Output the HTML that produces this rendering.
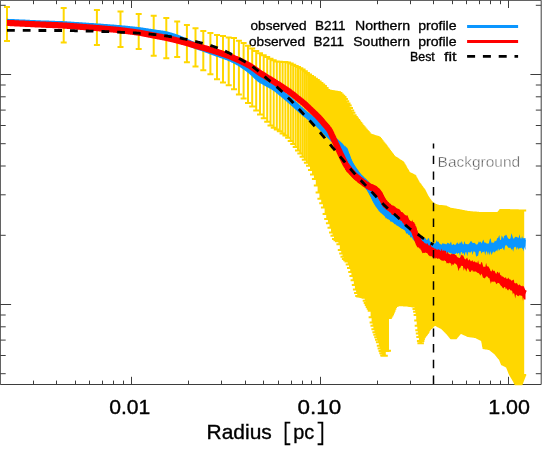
<!DOCTYPE html>
<html><head><meta charset="utf-8"><style>
html,body{margin:0;padding:0;background:#fff;}
svg{display:block}
text{font-family:"Liberation Sans",sans-serif;fill:#000;}
</style></head><body>
<svg width="542" height="462" viewBox="0 0 542 462">
<rect width="542" height="462" fill="#fff"/>
<defs><filter id="gs" x="0" y="0" width="100%" height="100%" filterUnits="userSpaceOnUse" color-interpolation-filters="sRGB"><feColorMatrix type="saturate" values="0"/></filter><clipPath id="c"><rect x="0" y="0" width="541.5" height="385.2"/></clipPath></defs>
<path d="M0.3 0.3H541.2V384.5H0.3Z" fill="none" stroke="#3d3d3d" stroke-width="1"/>
<path d="M33.5 384.5v-3.9M33.5 0.3v3.9M56.5 384.5v-3.9M56.5 0.3v3.9M75.5 384.5v-3.9M75.5 0.3v3.9M89.5 384.5v-3.9M89.5 0.3v3.9M102.5 384.5v-3.9M102.5 0.3v3.9M113.5 384.5v-3.9M113.5 0.3v3.9M123.5 384.5v-3.9M123.5 0.3v3.9M131.5 384.5v-7.7M131.5 0.3v7.7M188.5 384.5v-3.9M188.5 0.3v3.9M221.5 384.5v-3.9M221.5 0.3v3.9M245.5 384.5v-3.9M245.5 0.3v3.9M263.5 384.5v-3.9M263.5 0.3v3.9M278.5 384.5v-3.9M278.5 0.3v3.9M291.5 384.5v-3.9M291.5 0.3v3.9M302.5 384.5v-3.9M302.5 0.3v3.9M311.5 384.5v-3.9M311.5 0.3v3.9M320.5 384.5v-7.7M320.5 0.3v7.7M377.5 384.5v-3.9M377.5 0.3v3.9M410.5 384.5v-3.9M410.5 0.3v3.9M433.5 384.5v-3.9M433.5 0.3v3.9M452.5 384.5v-3.9M452.5 0.3v3.9M466.5 384.5v-3.9M466.5 0.3v3.9M479.5 384.5v-3.9M479.5 0.3v3.9M490.5 384.5v-3.9M490.5 0.3v3.9M500.5 384.5v-3.9M500.5 0.3v3.9M508.5 384.5v-7.7M508.5 0.3v7.7M0.3 373.7h5.4M541.2 373.7h-5.4M0.3 355.5h5.4M541.2 355.5h-5.4M0.3 340.1h5.4M541.2 340.1h-5.4M0.3 326.8h5.4M541.2 326.8h-5.4M0.3 315h5.4M541.2 315h-5.4M0.3 304.5h10.8M541.2 304.5h-10.8M0.3 235.3h5.4M541.2 235.3h-5.4M0.3 194.8h5.4M541.2 194.8h-5.4M0.3 166h5.4M541.2 166h-5.4M0.3 143.7h5.4M541.2 143.7h-5.4M0.3 125.5h5.4M541.2 125.5h-5.4M0.3 110.1h5.4M541.2 110.1h-5.4M0.3 96.8h5.4M541.2 96.8h-5.4M0.3 85h5.4M541.2 85h-5.4M0.3 74.5h10.8M541.2 74.5h-10.8M0.3 5.3h5.4M541.2 5.3h-5.4" stroke="#3d3d3d" stroke-width="1" fill="none"/>
<g clip-path="url(#c)">
<path d="M7 7V41M4 7h6M4 41h6M63.7 8V42.6M60.7 8h6M60.7 42.6h6M96.9 10.1V45.1M93.9 10.1h6M93.9 45.1h6M120.5 11.6V47.1M117.5 11.6h6M117.5 47.1h6M138.7 14V49.1M135.7 14h6M135.7 49.1h6M153.7 15.8V55.8M150.7 15.8h6M150.7 55.8h6M166.3 18V58.3M163.3 18h6M163.3 58.3h6M177.2 21.5V56.9M174.2 21.5h6M174.2 56.9h6M186.9 25.1V62.2M183.9 25.1h6M183.9 62.2h6M195.5 28.2V66.6M192.5 28.2h6M192.5 66.6h6M203.3 31.1V70.2M200.3 31.1h6M200.3 70.2h6M210.4 33.1V74.3M207.4 33.1h6M207.4 74.3h6M217 34.9V79.2M214 34.9h6M214 79.2h6M223 36V82.6M220 36h6M220 82.6h6M228.7 37.5V85.3M225.7 37.5h6M225.7 85.3h6M234 38.1V89.3M231 38.1h6M231 89.3h6M238.9 40.8V94.5M235.9 40.8h6M235.9 94.5h6M243.6 43V98.4M240.6 43h6M240.6 98.4h6M248 45.8V103.1M245 45.8h6M245 103.1h6M252.2 48.5V106.4M249.2 48.5h6M249.2 106.4h6M256.2 51.1V110.4M253.2 51.1h6M253.2 110.4h6M260 53.2V114.5M257 53.2h6M257 114.5h6M263.7 55.2V118.2M260.7 55.2h6M260.7 118.2h6M267.2 57.1V121.8M264.2 57.1h6M264.2 121.8h6M270.5 58.8V125.4M267.5 58.8h6M267.5 125.4h6M273.7 60.3V127.8M270.7 60.3h6M270.7 127.8h6M276.8 61.6V129.4M273.8 61.6h6M273.8 129.4h6M279.8 61.8V131.2M276.8 61.8h6M276.8 131.2h6M282.6 62V133.5M279.6 62h6M279.6 133.5h6M285.4 62.1V135.6M282.4 62.1h6M282.4 135.6h6M288.1 62.6V137.8M285.1 62.6h6M285.1 137.8h6M290.7 63.4V140.9M287.7 63.4h6M287.7 140.9h6M293.2 64.7V144M290.2 64.7h6M290.2 144h6M295.7 65.9V147.1M292.7 65.9h6M292.7 147.1h6M298 67.1V150.4M295 67.1h6M295 150.4h6M300.3 68.3V153.6M297.3 68.3h6M297.3 153.6h6M302.6 69.6V156.7M299.6 69.6h6M299.6 156.7h6M304.8 71.3V159.8M301.8 71.3h6M301.8 159.8h6M306.9 72.9V162.8M303.9 72.9h6M303.9 162.8h6M309 74.5V165.7M306 74.5h6M306 165.7h6M311 75.9V170.1M308 75.9h6M308 170.1h6M313 77.3V174.6M310 77.3h6M310 174.6h6M314.9 78.7V179M311.9 78.7h6M311.9 179h6M316.8 80.1V185.6M313.8 80.1h6M313.8 185.6h6M318.6 81.6V192.4M315.6 81.6h6M315.6 192.4h6M320.4 83V198.8M317.4 83h6M317.4 198.8h6M322.2 84.4V203.2M319.2 84.4h6M319.2 203.2h6M323.9 86V207.5M320.9 86h6M320.9 207.5h6M325.6 87.9V213.9M322.6 87.9h6M322.6 213.9h6M327.2 89.9V219.1M324.2 89.9h6M324.2 219.1h6M328.9 90.7V223.2M325.9 90.7h6M325.9 223.2h6M330.5 90.9V227.8M327.5 90.9h6M327.5 227.8h6M332 91.2V232.4M329 91.2h6M329 232.4h6M333.5 91.5V235.8M330.5 91.5h6M330.5 235.8h6M335 91.7V238.9M332 91.7h6M332 238.9h6M336.5 92V240.2M333.5 92h6M333.5 240.2h6M338 92.3V241.3M335 92.3h6M335 241.3h6M339.4 93V244.3M336.4 93h6M336.4 244.3h6M340.8 94.4V249.9M337.8 94.4h6M337.8 249.9h6M342.2 95.8V253.5M339.2 95.8h6M339.2 253.5h6M343.5 97.1V256.8M340.5 97.1h6M340.5 256.8h6M344.9 99V258.9M341.9 99h6M341.9 258.9h6M346.2 101.2V260.2M343.2 101.2h6M343.2 260.2h6M347.5 103.4V261.5M344.5 103.4h6M344.5 261.5h6M348.7 105.5V264.5M345.7 105.5h6M345.7 264.5h6M350 107.9V268.1M347 107.9h6M347 268.1h6M351.2 110.4V271.9M348.2 110.4h6M348.2 271.9h6M352.4 112.8V276.1M349.4 112.8h6M349.4 276.1h6M353.6 115.2V280.3M350.6 115.2h6M350.6 280.3h6M354.8 117V285M351.8 117h6M351.8 285h6M355.9 118.6V289.5M352.9 118.6h6M352.9 289.5h6M357.1 120.1V293M354.1 120.1h6M354.1 293h6M358.2 121.5V296.1M355.2 121.5h6M355.2 296.1h6M359.3 123V296.4M356.3 123h6M356.3 296.4h6M360.4 124.4V296.6M357.4 124.4h6M357.4 296.6h6M361.5 125.9V296.8M358.5 125.9h6M358.5 296.8h6M362.6 127.2V297.1M359.6 127.2h6M359.6 297.1h6M363.6 128.5V297.3M360.6 128.5h6M360.6 297.3h6M364.7 129.7V297.7M361.7 129.7h6M361.7 297.7h6M365.7 130.9V300.8M362.7 130.9h6M362.7 300.8h6M366.7 132.1V302.9M363.7 132.1h6M363.7 302.9h6M367.7 133.3V304.9M364.7 133.3h6M364.7 304.9h6M368.7 134.5V306.9M365.7 134.5h6M365.7 306.9h6M369.7 134.9V308.8M366.7 134.9h6M366.7 308.8h6M370.7 135.2V310.8M367.7 135.2h6M367.7 310.8h6M371.6 135.6V317.3M368.6 135.6h6M368.6 317.3h6M372.6 135.9V322.5M369.6 135.9h6M369.6 322.5h6M373.5 136.2V325.8M370.5 136.2h6M370.5 325.8h6M374.4 136.5V329.2M371.4 136.5h6M371.4 329.2h6M375.4 136.8V332.2M372.4 136.8h6M372.4 332.2h6M376.3 137.1V334.7M373.3 137.1h6M373.3 334.7h6M377.2 137.4V337.2M374.2 137.4h6M374.2 337.2h6M378 138V339.7M375 138h6M375 339.7h6M378.9 139.1V342.3M375.9 139.1h6M375.9 342.3h6M379.8 140.2V345.7M376.8 140.2h6M376.8 345.7h6M380.6 141.3V348.6M377.6 141.3h6M377.6 348.6h6M381.5 142.4V350.9M378.5 142.4h6M378.5 350.9h6M382.3 143.4V353.2M379.3 143.4h6M379.3 353.2h6M383.2 144.5V355.4M380.2 144.5h6M380.2 355.4h6M384 145.5V355.8M381 145.5h6M381 355.8h6M384.8 146.6V355.8M381.8 146.6h6M381.8 355.8h6M385.6 147.7V351M382.6 147.7h6M382.6 351h6M386.4 148.8V350.9M383.4 148.8h6M383.4 350.9h6M387.2 149.8V350.8M384.2 149.8h6M384.2 350.8h6M388 150.9V350.8M385 150.9h6M385 350.8h6M388.8 151.9V318M385.8 151.9h6M385.8 318h6M389.5 152.9V316.7M386.5 152.9h6M386.5 316.7h6M390.3 154V315.5M387.3 154h6M387.3 315.5h6M391 155V314.2M388 155h6M388 314.2h6M391.8 156V312.6M388.8 156h6M388.8 312.6h6M392.5 156.9V310.7M389.5 156.9h6M389.5 310.7h6M393.3 157.4V308.8M390.3 157.4h6M390.3 308.8h6M394 157.9V306.9M391 157.9h6M391 306.9h6M394.7 158.3V306.1M391.7 158.3h6M391.7 306.1h6M395.4 158.8V305.8M392.4 158.8h6M392.4 305.8h6M396.1 159.3V305.4M393.1 159.3h6M393.1 305.4h6M396.8 159.7V305.1M393.8 159.7h6M393.8 305.1h6M397.5 160.2V304.9M394.5 160.2h6M394.5 304.9h6M398.2 160.7V305M395.2 160.7h6M395.2 305h6M398.9 161.1V305M395.9 161.1h6M395.9 305h6M399.6 161.6V305M396.6 161.6h6M396.6 305h6M400.3 162V305.1M397.3 162h6M397.3 305.1h6M400.9 162.5V305.1M397.9 162.5h6M397.9 305.1h6M401.6 163.2V305.1M398.6 163.2h6M398.6 305.1h6M402.3 164.4V305.2M399.3 164.4h6M399.3 305.2h6M402.9 165.5V305.2M399.9 165.5h6M399.9 305.2h6M403.6 166.6V305.2M400.6 166.6h6M400.6 305.2h6M404.2 167.8V305.3M401.2 167.8h6M401.2 305.3h6M404.8 168.9V305.3M401.8 168.9h6M401.8 305.3h6M405.5 170V305.3M402.5 170h6M402.5 305.3h6M406.1 171.1V305.4M403.1 171.1h6M403.1 305.4h6M406.7 172.2V305.4M403.7 172.2h6M403.7 305.4h6M407.3 173.1V305.4M404.3 173.1h6M404.3 305.4h6M407.9 173.4V305.4M404.9 173.4h6M404.9 305.4h6M408.6 173.7V305.5M405.6 173.7h6M405.6 305.5h6M409.2 174V305.5M406.2 174h6M406.2 305.5h6M409.8 174.3V305.6M406.8 174.3h6M406.8 305.6h6M410.4 174.6V305.7M407.4 174.6h6M407.4 305.7h6M410.9 174.9V305.8M407.9 174.9h6M407.9 305.8h6M411.5 175.2V305.9M408.5 175.2h6M408.5 305.9h6M412.1 175.5V306M409.1 175.5h6M409.1 306h6M412.7 175.8V306.1M409.7 175.8h6M409.7 306.1h6M413.3 176.3V306.1M410.3 176.3h6M410.3 306.1h6M413.8 177.4V306.2M410.8 177.4h6M410.8 306.2h6M414.4 178.4V306.3M411.4 178.4h6M411.4 306.3h6M415 179.5V306.4M412 179.5h6M412 306.4h6M415.5 180.5V309M412.5 180.5h6M412.5 309h6M416.1 181.5V311.7M413.1 181.5h6M413.1 311.7h6M416.6 182.6V315.1M413.6 182.6h6M413.6 315.1h6M417.2 183.4V320.5M414.2 183.4h6M414.2 320.5h6M417.7 184.1V325.8M414.7 184.1h6M414.7 325.8h6M418.3 184.8V330.2M415.3 184.8h6M415.3 330.2h6M418.8 185.6V333.6M415.8 185.6h6M415.8 333.6h6M419.3 186.3V337M416.3 186.3h6M416.3 337h6M419.9 187V341.1M416.9 187h6M416.9 341.1h6M420.4 187.7V343.3M417.4 187.7h6M417.4 343.3h6M420.9 188.4V343.2M417.9 188.4h6M417.9 343.2h6M421.4 189.1V341.1M418.4 189.1h6M418.4 341.1h6M421.9 189.8V338.9M418.9 189.8h6M418.9 338.9h6M422.5 190.5V337.2M419.5 190.5h6M419.5 337.2h6M423 191.4V336.5M420 191.4h6M420 336.5h6M423.5 192.4V335.8M420.5 192.4h6M420.5 335.8h6M424 193.4V335.1M421 193.4h6M421 335.1h6M424.5 194.4V334.5M421.5 194.4h6M421.5 334.5h6M425 195.4V333.8M422 195.4h6M422 333.8h6M425.5 196.4V333.1M422.5 196.4h6M422.5 333.1h6M426 197.3V332.5M423 197.3h6M423 332.5h6M426.5 198V331.8M423.5 198h6M423.5 331.8h6M426.9 198.7V330.3M423.9 198.7h6M423.9 330.3h6M427.4 199.4V329.7M424.4 199.4h6M424.4 329.7h6M427.9 200.1V329.1M424.9 200.1h6M424.9 329.1h6M428.4 200.8V328.6M425.4 200.8h6M425.4 328.6h6M428.9 201.5V328.1M425.9 201.5h6M425.9 328.1h6M429.3 202V327.7M426.3 202h6M426.3 327.7h6M429.8 202.4V327.2M426.8 202.4h6M426.8 327.2h6M430.3 202.9V326.7M427.3 202.9h6M427.3 326.7h6M430.7 203.4V326.3M427.7 203.4h6M427.7 326.3h6M431.2 203.9V325.8M428.2 203.9h6M428.2 325.8h6M431.6 204.3V325.4M428.6 204.3h6M428.6 325.4h6M432.1 204.5V325M429.1 204.5h6M429.1 325h6M432.6 204.6V325M429.6 204.6h6M429.6 325h6M433 204.8V325M430 204.8h6M430 325h6M433.5 204.9V325M430.5 204.9h6M430.5 325h6M433.9 205.1V325M430.9 205.1h6M430.9 325h6M434.3 205.2V325M431.3 205.2h6M431.3 325h6M434.8 205.4V325M431.8 205.4h6M431.8 325h6M435.2 205.5V325M432.2 205.5h6M432.2 325h6M435.7 205.7V325M432.7 205.7h6M432.7 325h6M436.1 205.8V325M433.1 205.8h6M433.1 325h6M436.5 205.9V325M433.5 205.9h6M433.5 325h6M437 205.9V325M434 205.9h6M434 325h6M437.4 205.9V325M434.4 205.9h6M434.4 325h6M437.8 206V325M434.8 206h6M434.8 325h6M438.2 206V325.1M435.2 206h6M435.2 325.1h6M438.7 206.1V325.3M435.7 206.1h6M435.7 325.3h6M439.1 206.1V325.5M436.1 206.1h6M436.1 325.5h6M439.5 206.1V325.7M436.5 206.1h6M436.5 325.7h6M439.9 206.2V326M436.9 206.2h6M436.9 326h6M440.3 206.2V326.2M437.3 206.2h6M437.3 326.2h6M440.7 206.2V326.4M437.7 206.2h6M437.7 326.4h6M441.1 206.3V326.6M438.1 206.3h6M438.1 326.6h6M441.5 206.3V326.8M438.5 206.3h6M438.5 326.8h6M441.9 206.4V327M438.9 206.4h6M438.9 327h6M442.4 206.4V327.2M439.4 206.4h6M439.4 327.2h6M442.8 206.4V327.4M439.8 206.4h6M439.8 327.4h6M443.2 206.5V327.6M440.2 206.5h6M440.2 327.6h6M443.5 206.6V327.8M440.5 206.6h6M440.5 327.8h6M443.9 206.8V328M440.9 206.8h6M440.9 328h6M444.3 207V328.3M441.3 207h6M441.3 328.3h6M444.7 207.2V328.7M441.7 207.2h6M441.7 328.7h6M445.1 207.4V329.1M442.1 207.4h6M442.1 329.1h6M445.5 207.6V329.5M442.5 207.6h6M442.5 329.5h6M445.9 207.7V329.9M442.9 207.7h6M442.9 329.9h6M446.3 207.9V330.3M443.3 207.9h6M443.3 330.3h6M446.7 208.1V330.7M443.7 208.1h6M443.7 330.7h6M447 208.3V331M444 208.3h6M444 331h6M447.4 208.5V331.4M444.4 208.5h6M444.4 331.4h6M447.8 208.7V331.8M444.8 208.7h6M444.8 331.8h6M448.2 208.8V332.2M445.2 208.8h6M445.2 332.2h6M448.5 208.8V332.5M445.5 208.8h6M445.5 332.5h6M448.9 208.9V332.9M445.9 208.9h6M445.9 332.9h6M449.3 208.9V333.3M446.3 208.9h6M446.3 333.3h6M449.6 209V333.8M446.6 209h6M446.6 333.8h6M450 209.1V334.2M447 209.1h6M447 334.2h6M450.4 209.1V334.6M447.4 209.1h6M447.4 334.6h6M450.7 209.2V335.1M447.7 209.2h6M447.7 335.1h6M451.1 209.3V335.5M448.1 209.3h6M448.1 335.5h6M451.5 209.3V335.9M448.5 209.3h6M448.5 335.9h6M451.8 209.4V336.4M448.8 209.4h6M448.8 336.4h6M452.2 209.4V336.8M449.2 209.4h6M449.2 336.8h6M452.5 209.5V337.2M449.5 209.5h6M449.5 337.2h6M452.9 209.6V337.7M449.9 209.6h6M449.9 337.7h6M453.2 209.6V338.1M450.2 209.6h6M450.2 338.1h6M453.6 209.7V338.3M450.6 209.7h6M450.6 338.3h6M453.9 209.7V337.9M450.9 209.7h6M450.9 337.9h6M454.3 209.8V337.5M451.3 209.8h6M451.3 337.5h6M454.6 209.9V337M451.6 209.9h6M451.6 337h6M455 209.9V336.6M452 209.9h6M452 336.6h6M455.3 210V336.2M452.3 210h6M452.3 336.2h6M455.7 210V335.8M452.7 210h6M452.7 335.8h6M456 210.1V335.4M453 210.1h6M453 335.4h6M456.3 210.1V335M453.3 210.1h6M453.3 335h6M456.7 210.2V334.6M453.7 210.2h6M453.7 334.6h6M457 210.3V334.2M454 210.3h6M454 334.2h6M457.3 210.3V333.8M454.3 210.3h6M454.3 333.8h6M457.7 210.4V333.4M454.7 210.4h6M454.7 333.4h6M458 210.5V333M455 210.5h6M455 333h6M458.3 210.5V333M455.3 210.5h6M455.3 333h6M458.7 210.6V333M455.7 210.6h6M455.7 333h6M459 210.7V333M456 210.7h6M456 333h6M459.3 210.7V333M456.3 210.7h6M456.3 333h6M459.7 210.8V333M456.7 210.8h6M456.7 333h6M460 210.9V333M457 210.9h6M457 333h6M460.3 210.9V333M457.3 210.9h6M457.3 333h6M460.6 211V333M457.6 211h6M457.6 333h6M460.9 211V333M457.9 211h6M457.9 333h6M461.3 211.1V333M458.3 211.1h6M458.3 333h6M461.6 211.2V333M458.6 211.2h6M458.6 333h6M461.9 211.2V333M458.9 211.2h6M458.9 333h6M462.2 211.3V333M459.2 211.3h6M459.2 333h6M462.5 211.4V333M459.5 211.4h6M459.5 333h6M462.8 211.4V333M459.8 211.4h6M459.8 333h6M463.1 211.5V333M460.1 211.5h6M460.1 333h6M463.5 211.6V333M460.5 211.6h6M460.5 333h6M463.8 211.6V333M460.8 211.6h6M460.8 333h6M464.1 211.7V333M461.1 211.7h6M461.1 333h6M464.4 211.7V333.2M461.4 211.7h6M461.4 333.2h6M464.7 211.8V333.3M461.7 211.8h6M461.7 333.3h6M465 211.9V333.5M462 211.9h6M462 333.5h6M465.3 211.9V333.6M462.3 211.9h6M462.3 333.6h6M465.6 212V333.7M462.6 212h6M462.6 333.7h6M465.9 212V333.9M462.9 212h6M462.9 333.9h6M466.2 212V334M463.2 212h6M463.2 334h6M466.5 212.1V334.2M463.5 212.1h6M463.5 334.2h6M466.8 212.1V334.3M463.8 212.1h6M463.8 334.3h6M467.1 212.1V334.4M464.1 212.1h6M464.1 334.4h6M467.4 212.1V334.6M464.4 212.1h6M464.4 334.6h6M467.7 212.2V334.7M464.7 212.2h6M464.7 334.7h6M468 212.2V334.8M465 212.2h6M465 334.8h6M468.3 212.2V335M465.3 212.2h6M465.3 335h6M468.6 212.2V335.1M465.6 212.2h6M465.6 335.1h6M468.9 212.3V335.2M465.9 212.3h6M465.9 335.2h6M469.1 212.3V335.4M466.1 212.3h6M466.1 335.4h6M469.4 212.3V335.5M466.4 212.3h6M466.4 335.5h6M469.7 212.3V335.6M466.7 212.3h6M466.7 335.6h6M470 212.4V335.8M467 212.4h6M467 335.8h6M470.3 212.4V335.9M467.3 212.4h6M467.3 335.9h6M470.6 212.4V336M467.6 212.4h6M467.6 336h6M470.9 212.4V336M467.9 212.4h6M467.9 336h6M471.1 212.4V336.1M468.1 212.4h6M468.1 336.1h6M471.4 212.5V336.1M468.4 212.5h6M468.4 336.1h6M471.7 212.5V336.2M468.7 212.5h6M468.7 336.2h6M472 212.5V336.2M469 212.5h6M469 336.2h6M472.3 212.5V336.2M469.3 212.5h6M469.3 336.2h6M472.5 212.6V336.3M469.5 212.6h6M469.5 336.3h6M472.8 212.6V336.3M469.8 212.6h6M469.8 336.3h6M473.1 212.6V336.3M470.1 212.6h6M470.1 336.3h6M473.4 212.6V336.4M470.4 212.6h6M470.4 336.4h6M473.7 212.6V336.4M470.7 212.6h6M470.7 336.4h6M473.9 212.7V336.5M470.9 212.7h6M470.9 336.5h6M474.2 212.7V336.5M471.2 212.7h6M471.2 336.5h6M474.5 212.7V336.5M471.5 212.7h6M471.5 336.5h6M474.7 212.7V336.6M471.7 212.7h6M471.7 336.6h6M475 212.8V336.6M472 212.8h6M472 336.6h6M475.3 212.8V336.6M472.3 212.8h6M472.3 336.6h6M475.5 212.8V336.7M472.5 212.8h6M472.5 336.7h6M475.8 212.8V336.7M472.8 212.8h6M472.8 336.7h6M476.1 212.8V336.7M473.1 212.8h6M473.1 336.7h6M476.3 212.9V336.8M473.3 212.9h6M473.3 336.8h6M476.6 212.9V336.8M473.6 212.9h6M473.6 336.8h6M476.9 212.9V336.8M473.9 212.9h6M473.9 336.8h6M477.1 212.9V336.9M474.1 212.9h6M474.1 336.9h6M477.4 213V336.9M474.4 213h6M474.4 336.9h6M477.7 213V337M474.7 213h6M474.7 337h6M477.9 213V337M474.9 213h6M474.9 337h6M478.2 213V337.1M475.2 213h6M475.2 337.1h6M478.4 213V337.2M475.4 213h6M475.4 337.2h6M478.7 213V337.3M475.7 213h6M475.7 337.3h6M479 213V337.5M476 213h6M476 337.5h6M479.2 213V337.6M476.2 213h6M476.2 337.6h6M479.5 213V337.7M476.5 213h6M476.5 337.7h6M479.7 213V337.9M476.7 213h6M476.7 337.9h6M480 213V338M477 213h6M477 338h6M480.2 213V338.1M477.2 213h6M477.2 338.1h6M480.5 213V338.2M477.5 213h6M477.5 338.2h6M480.7 213V338.4M477.7 213h6M477.7 338.4h6M481 213V338.5M478 213h6M478 338.5h6M481.2 213V338.6M478.2 213h6M478.2 338.6h6M481.5 213V338.7M478.5 213h6M478.5 338.7h6M481.7 213V338.9M478.7 213h6M478.7 338.9h6M482 213V339M479 213h6M479 339h6M482.2 213V339.1M479.2 213h6M479.2 339.1h6M482.5 213V339.2M479.5 213h6M479.5 339.2h6M482.7 213V339.4M479.7 213h6M479.7 339.4h6M483 213V339.5M480 213h6M480 339.5h6M483.2 213V339.6M480.2 213h6M480.2 339.6h6M483.4 213V339.7M480.4 213h6M480.4 339.7h6M483.7 213V339.8M480.7 213h6M480.7 339.8h6M483.9 213V340M480.9 213h6M480.9 340h6M484.2 213V340.9M481.2 213h6M481.2 340.9h6M484.4 213V342.2M481.4 213h6M481.4 342.2h6M484.7 213V343.5M481.7 213h6M481.7 343.5h6M484.9 213V344.7M481.9 213h6M481.9 344.7h6M485.1 213V346M482.1 213h6M482.1 346h6M485.4 213V347.3M482.4 213h6M482.4 347.3h6M485.6 213V348M482.6 213h6M482.6 348h6M485.8 213V348.1M482.8 213h6M482.8 348.1h6M486.1 213V348.1M483.1 213h6M483.1 348.1h6M486.3 213V348.1M483.3 213h6M483.3 348.1h6M486.5 213V348.2M483.5 213h6M483.5 348.2h6M486.8 213V348.2M483.8 213h6M483.8 348.2h6M487 213V348.2M484 213h6M484 348.2h6M487.2 213V348.3M484.2 213h6M484.2 348.3h6M487.5 213V348.3M484.5 213h6M484.5 348.3h6M487.7 213V348.3M484.7 213h6M484.7 348.3h6M487.9 213V348.4M484.9 213h6M484.9 348.4h6M488.2 213V348.4M485.2 213h6M485.2 348.4h6M488.4 213V348.4M485.4 213h6M485.4 348.4h6M488.6 213V348.5M485.6 213h6M485.6 348.5h6M488.8 213V348.5M485.8 213h6M485.8 348.5h6M489.1 213V348.6M486.1 213h6M486.1 348.6h6M489.3 213V348.6M486.3 213h6M486.3 348.6h6M489.5 213V348.6M486.5 213h6M486.5 348.6h6M489.8 213V348.7M486.8 213h6M486.8 348.7h6M490 213V348.7M487 213h6M487 348.7h6M490.2 213V348.7M487.2 213h6M487.2 348.7h6M490.4 213V348.8M487.4 213h6M487.4 348.8h6M490.6 213V348.8M487.6 213h6M487.6 348.8h6M490.9 213V348.8M487.9 213h6M487.9 348.8h6M491.1 213V348.9M488.1 213h6M488.1 348.9h6M491.3 213V348.9M488.3 213h6M488.3 348.9h6M491.5 213V348.9M488.5 213h6M488.5 348.9h6M491.8 213V349M488.8 213h6M488.8 349h6M492 213V349M489 213h6M489 349h6M492.2 213V349.2M489.2 213h6M489.2 349.2h6M492.4 213V349.3M489.4 213h6M489.4 349.3h6M492.6 213V349.5M489.6 213h6M489.6 349.5h6M492.8 213V349.7M489.8 213h6M489.8 349.7h6M493.1 213V349.8M490.1 213h6M490.1 349.8h6M493.3 213V350M490.3 213h6M490.3 350h6M493.5 213V350.2M490.5 213h6M490.5 350.2h6M493.7 213V350.4M490.7 213h6M490.7 350.4h6M493.9 213V350.5M490.9 213h6M490.9 350.5h6M494.1 213V350.7M491.1 213h6M491.1 350.7h6M494.3 213V350.9M491.3 213h6M491.3 350.9h6M494.6 213V351M491.6 213h6M491.6 351h6M494.8 213V351.2M491.8 213h6M491.8 351.2h6M495 213V351.4M492 213h6M492 351.4h6M495.2 213V351.6M492.2 213h6M492.2 351.6h6M495.4 213V351.7M492.4 213h6M492.4 351.7h6M495.6 213V351.9M492.6 213h6M492.6 351.9h6M495.8 213V352.1M492.8 213h6M492.8 352.1h6M496 213V352.2M493 213h6M493 352.2h6M496.2 213V352.4M493.2 213h6M493.2 352.4h6M496.4 213V352.6M493.4 213h6M493.4 352.6h6M496.7 213V352.7M493.7 213h6M493.7 352.7h6M496.9 213V352.9M493.9 213h6M493.9 352.9h6M497.1 213V353.1M494.1 213h6M494.1 353.1h6M497.3 213V353.3M494.3 213h6M494.3 353.3h6M497.5 213V353.6M494.5 213h6M494.5 353.6h6M497.7 213V353.8M494.7 213h6M494.7 353.8h6M497.9 213V354.1M494.9 213h6M494.9 354.1h6M498.1 213V354.3M495.1 213h6M495.1 354.3h6M498.3 213V354.5M495.3 213h6M495.3 354.5h6M498.5 213V354.8M495.5 213h6M495.5 354.8h6M498.7 213V355M495.7 213h6M495.7 355h6M498.9 213V355.3M495.9 213h6M495.9 355.3h6M499.1 213V355.5M496.1 213h6M496.1 355.5h6M499.3 213V355.8M496.3 213h6M496.3 355.8h6M499.5 213V356M496.5 213h6M496.5 356h6M499.7 213V356.2M496.7 213h6M496.7 356.2h6M499.9 213V356.5M496.9 213h6M496.9 356.5h6M500.1 213V356.7M497.1 213h6M497.1 356.7h6M500.3 212.9V356.9M497.3 212.9h6M497.3 356.9h6M500.5 212.6V357.2M497.5 212.6h6M497.5 357.2h6M500.7 212.4V357.4M497.7 212.4h6M497.7 357.4h6M500.9 212.2V357.7M497.9 212.2h6M497.9 357.7h6M501.1 211.9V357.9M498.1 211.9h6M498.1 357.9h6M501.3 211.7V358.1M498.3 211.7h6M498.3 358.1h6M501.5 211.4V358.4M498.5 211.4h6M498.5 358.4h6M501.7 211.2V358.6M498.7 211.2h6M498.7 358.6h6M501.9 211V358.8M498.9 211h6M498.9 358.8h6M502.1 210.7V359.1M499.1 210.7h6M499.1 359.1h6M502.2 210.5V359.6M499.2 210.5h6M499.2 359.6h6M502.4 210.3V360.1M499.4 210.3h6M499.4 360.1h6M502.6 210.1V360.6M499.6 210.1h6M499.6 360.6h6M502.8 210V361.1M499.8 210h6M499.8 361.1h6M503 210V361.5M500 210h6M500 361.5h6M503.2 210V362M500.2 210h6M500.2 362h6M503.4 210V362.5M500.4 210h6M500.4 362.5h6M503.6 210V363M500.6 210h6M500.6 363h6M503.8 210V363.4M500.8 210h6M500.8 363.4h6M504 210V363.9M501 210h6M501 363.9h6M504.2 210V364.1M501.2 210h6M501.2 364.1h6M504.3 210V364.2M501.3 210h6M501.3 364.2h6M504.5 210V364.3M501.5 210h6M501.5 364.3h6M504.7 210V364.4M501.7 210h6M501.7 364.4h6M504.9 210V364.5M501.9 210h6M501.9 364.5h6M505.1 210.1V364.5M502.1 210.1h6M502.1 364.5h6M505.3 210.1V364.6M502.3 210.1h6M502.3 364.6h6M505.5 210.1V364.7M502.5 210.1h6M502.5 364.7h6M505.6 210.1V364.8M502.6 210.1h6M502.6 364.8h6M505.8 210.1V364.9M502.8 210.1h6M502.8 364.9h6M506 210.1V365M503 210.1h6M503 365h6M506.2 210.1V365.1M503.2 210.1h6M503.2 365.1h6M506.4 210.1V365.2M503.4 210.1h6M503.4 365.2h6M506.6 210.1V365.3M503.6 210.1h6M503.6 365.3h6M506.8 210.1V365.4M503.8 210.1h6M503.8 365.4h6M506.9 210.1V365.5M503.9 210.1h6M503.9 365.5h6M507.1 210.1V365.6M504.1 210.1h6M504.1 365.6h6M507.3 210.2V365.6M504.3 210.2h6M504.3 365.6h6M507.5 210.2V365.7M504.5 210.2h6M504.5 365.7h6M507.7 210.2V365.8M504.7 210.2h6M504.7 365.8h6M507.8 210.2V365.9M504.8 210.2h6M504.8 365.9h6M508 210.2V366M505 210.2h6M505 366h6M508.2 210.2V366.1M505.2 210.2h6M505.2 366.1h6M508.4 210.2V366.2M505.4 210.2h6M505.4 366.2h6M508.6 210.2V366.3M505.6 210.2h6M505.6 366.3h6M508.7 210.2V366.4M505.7 210.2h6M505.7 366.4h6M508.9 210.2V366.5M505.9 210.2h6M505.9 366.5h6M509.1 210.2V366.7M506.1 210.2h6M506.1 366.7h6M509.3 210.2V367.2M506.3 210.2h6M506.3 367.2h6M509.4 210.2V367.6M506.4 210.2h6M506.4 367.6h6M509.6 210.2V368.1M506.6 210.2h6M506.6 368.1h6M509.8 210.2V368.5M506.8 210.2h6M506.8 368.5h6M510 210.2V368.9M507 210.2h6M507 368.9h6M510.2 210.2V369.4M507.2 210.2h6M507.2 369.4h6M510.3 210.2V369.8M507.3 210.2h6M507.3 369.8h6M510.5 210.2V370.3M507.5 210.2h6M507.5 370.3h6M510.7 210.2V370.7M507.7 210.2h6M507.7 370.7h6M510.9 210.2V371.1M507.9 210.2h6M507.9 371.1h6M511 210.3V371.6M508 210.3h6M508 371.6h6M511.2 210.3V372M508.2 210.3h6M508.2 372h6M511.4 210.3V372.4M508.4 210.3h6M508.4 372.4h6M511.5 210.3V372.9M508.5 210.3h6M508.5 372.9h6M511.7 210.3V373.3M508.7 210.3h6M508.7 373.3h6M511.9 210.3V373.7M508.9 210.3h6M508.9 373.7h6M512.1 210.3V374.1M509.1 210.3h6M509.1 374.1h6M512.2 210.3V374.4M509.2 210.3h6M509.2 374.4h6M512.4 210.3V374.7M509.4 210.3h6M509.4 374.7h6M512.6 210.3V375M509.6 210.3h6M509.6 375h6M512.7 210.3V375.2M509.7 210.3h6M509.7 375.2h6M512.9 210.3V375.5M509.9 210.3h6M509.9 375.5h6M513.1 210.3V375.8M510.1 210.3h6M510.1 375.8h6M513.2 210.3V376.1M510.2 210.3h6M510.2 376.1h6M513.4 210.3V376.4M510.4 210.3h6M510.4 376.4h6M513.6 210.3V376.6M510.6 210.3h6M510.6 376.6h6M513.8 210.3V376.9M510.8 210.3h6M510.8 376.9h6M513.9 210.3V377.2M510.9 210.3h6M510.9 377.2h6M514.1 210.3V377.5M511.1 210.3h6M511.1 377.5h6M514.3 210.3V377.8M511.3 210.3h6M511.3 377.8h6M514.4 210.3V378M511.4 210.3h6M511.4 378h6M514.6 210.3V378.3M511.6 210.3h6M511.6 378.3h6M514.8 210.3V378.6M511.8 210.3h6M511.8 378.6h6M514.9 210.3V378.9M511.9 210.3h6M511.9 378.9h6M515.1 210.3V379.1M512.1 210.3h6M512.1 379.1h6M515.2 210.3V379.4M512.2 210.3h6M512.2 379.4h6M515.4 210.3V379.7M512.4 210.3h6M512.4 379.7h6M515.6 210.3V380M512.6 210.3h6M512.6 380h6M515.7 210.3V380.3M512.7 210.3h6M512.7 380.3h6M515.9 210.4V380.6M512.9 210.4h6M512.9 380.6h6M516.1 210.4V381M513.1 210.4h6M513.1 381h6M516.2 210.4V381.3M513.2 210.4h6M513.2 381.3h6M516.4 210.4V381.6M513.4 210.4h6M513.4 381.6h6M516.6 210.4V382M513.6 210.4h6M513.6 382h6M516.7 210.4V382.3M513.7 210.4h6M513.7 382.3h6M516.9 210.4V382.6M513.9 210.4h6M513.9 382.6h6M517 210.4V383M514 210.4h6M514 383h6M517.2 210.4V383.3M514.2 210.4h6M514.2 383.3h6M517.4 210.4V383.6M514.4 210.4h6M514.4 383.6h6M517.5 210.4V384M514.5 210.4h6M514.5 384h6M517.7 210.4V384.3M514.7 210.4h6M514.7 384.3h6M517.8 210.4V384.6M514.8 210.4h6M514.8 384.6h6M518 210.4V385M515 210.4h6M515 385h6M518.2 210.4V385.3M515.2 210.4h6M515.2 385.3h6M518.3 210.4V385.6M515.3 210.4h6M515.3 385.6h6M518.5 210.4V386M515.5 210.4h6M515.5 386h6M518.6 210.4V386M515.6 210.4h6M515.6 386h6M518.8 210.4V385.9M515.8 210.4h6M515.8 385.9h6M519 210.4V385.6M516 210.4h6M516 385.6h6M519.1 210.4V385.2M516.1 210.4h6M516.1 385.2h6M519.3 210.4V384.7M516.3 210.4h6M516.3 384.7h6M519.4 210.4V384.3M516.4 210.4h6M516.4 384.3h6M519.6 210.5V383.9M516.6 210.5h6M516.6 383.9h6M519.7 210.5V383.4M516.7 210.5h6M516.7 383.4h6M519.9 210.5V383M516.9 210.5h6M516.9 383h6M520 210.5V382.6M517 210.5h6M517 382.6h6M520.2 210.5V382.2M517.2 210.5h6M517.2 382.2h6M520.4 210.5V381.8M517.4 210.5h6M517.4 381.8h6M520.5 210.5V381.3M517.5 210.5h6M517.5 381.3h6M520.7 210.5V380.9M517.7 210.5h6M517.7 380.9h6M520.8 210.5V380.5M517.8 210.5h6M517.8 380.5h6M521 210.5V380.1M518 210.5h6M518 380.1h6M521.1 210.5V379.7M518.1 210.5h6M518.1 379.7h6M521.3 210.5V379.3M518.3 210.5h6M518.3 379.3h6M521.4 210.5V378.9M518.4 210.5h6M518.4 378.9h6M521.6 210.5V378.5M518.6 210.5h6M518.6 378.5h6M521.7 210.5V378.2M518.7 210.5h6M518.7 378.2h6M521.9 210.6V377.8M518.9 210.6h6M518.9 377.8h6M522 210.6V377.4M519 210.6h6M519 377.4h6M522.2 210.6V377M519.2 210.6h6M519.2 377h6M522.3 210.6V376.6M519.3 210.6h6M519.3 376.6h6M522.5 210.6V376.3M519.5 210.6h6M519.5 376.3h6M522.6 210.6V375.9M519.6 210.6h6M519.6 375.9h6M522.8 210.6V375.5M519.8 210.6h6M519.8 375.5h6M522.9 210.6V375.1M519.9 210.6h6M519.9 375.1h6M523.1 210.6V375M520.1 210.6h6M520.1 375h6M523.2 210.6V375M520.2 210.6h6M520.2 375h6" stroke="#FFD700" stroke-width="2" fill="none"/>
<polyline points="7,21.9 8,21.9 8.2,22 8.5,22 8.8,22 9.1,22 9.5,22 9.8,22 10.2,22.1 10.6,22.1 11.1,22.1 11.5,22.1 11.9,22.1 12.4,22.2 12.8,22.2 13.3,22.2 13.7,22.2 14.2,22.2 14.6,22.3 15.1,22.3 15.5,22.3 16,22.3 16.4,22.3 16.9,22.4 17.3,22.4 17.8,22.4 18.2,22.4 18.7,22.4 19.1,22.5 19.6,22.5 20,22.5 20.5,22.5 20.9,22.6 21.4,22.6 21.8,22.6 22.3,22.6 22.7,22.6 23.2,22.7 23.6,22.7 24.1,22.7 24.5,22.7 25,22.7 25.4,22.8 25.9,22.8 26.3,22.8 26.8,22.8 27.2,22.9 27.7,22.9 28.1,22.9 28.6,22.9 29,22.9 29.5,23 29.9,23 30.4,23 30.8,23 31.3,23 31.7,23.1 32.2,23.1 32.6,23.1 33.1,23.1 33.5,23.1 34,23.2 34.4,23.2 34.9,23.2 35.3,23.2 35.8,23.3 36.2,23.3 36.7,23.3 37.1,23.3 37.6,23.3 38,23.4 38.5,23.4 38.9,23.4 39.4,23.4 39.8,23.4 40.3,23.4 40.7,23.5 41.2,23.5 41.6,23.5 42.1,23.5 42.5,23.5 43,23.5 43.4,23.6 43.9,23.6 44.3,23.6 44.8,23.6 45.2,23.6 45.7,23.6 46.1,23.7 46.6,23.7 47,23.7 47.5,23.7 47.9,23.7 48.4,23.7 48.8,23.7 49.3,23.8 49.7,23.8 50.2,23.8 50.6,23.8 51.1,23.8 51.5,23.8 52,23.9 52.4,23.9 52.9,23.9 53.3,23.9 53.8,23.9 54.2,23.9 54.7,23.9 55.1,24 55.6,24 56,24 56.5,24 56.9,24 57.4,24 57.8,24 58.3,24.1 58.7,24.1 59.2,24.1 59.6,24.1 60.1,24.1 60.5,24.1 61,24.2 61.4,24.2 61.9,24.2 62.3,24.2 62.7,24.2 63.2,24.3 63.6,24.3 64.1,24.3 64.5,24.3 65,24.3 65.4,24.4 65.9,24.4 66.3,24.4 66.8,24.5 67.2,24.5 67.7,24.5 68.1,24.5 68.6,24.6 69,24.6 69.5,24.6 69.9,24.7 70.4,24.7 70.8,24.7 71.3,24.8 71.7,24.8 72.2,24.8 72.6,24.8 73.1,24.9 73.5,24.9 74,24.9 74.4,25 74.9,25 75.3,25 75.8,25.1 76.2,25.1 76.7,25.1 77.1,25.1 77.6,25.2 78,25.2 78.5,25.2 78.9,25.3 79.4,25.3 79.8,25.3 80.3,25.4 80.7,25.4 81.2,25.4 81.6,25.4 82.1,25.5 82.5,25.5 83,25.5 83.4,25.6 83.9,25.6 84.3,25.6 84.8,25.7 85.2,25.7 85.7,25.7 86.1,25.8 86.5,25.8 87,25.8 87.4,25.8 87.9,25.9 88.3,25.9 88.8,25.9 89.2,26 89.7,26 90.1,26 90.6,26.1 91,26.1 91.5,26.1 91.9,26.1 92.4,26.2 92.8,26.2 93.3,26.2 93.7,26.3 94.2,26.3 94.6,26.3 95.1,26.4 95.5,26.4 96,26.4 96.4,26.5 96.9,26.5 97.3,26.5 97.8,26.5 98.2,26.6 98.7,26.6 99.1,26.6 99.6,26.7 100,26.7 100.5,26.7 100.9,26.8 101.4,26.8 101.8,26.8 102.3,26.9 102.7,26.9 103.2,26.9 103.6,27 104.1,27 104.5,27 105,27.1 105.4,27.1 105.9,27.1 106.3,27.2 106.7,27.2 107.2,27.2 107.6,27.3 108.1,27.3 108.5,27.3 109,27.4 109.4,27.4 109.9,27.4 110.3,27.5 110.8,27.5 111.2,27.5 111.7,27.6 112.1,27.6 112.6,27.6 113,27.7 113.5,27.7 113.9,27.7 114.4,27.8 114.8,27.8 115.3,27.8 115.7,27.9 116.2,27.9 116.6,28 117.1,28 117.5,28 118,28.1 118.4,28.1 118.9,28.1 119.3,28.2 119.8,28.2 120.2,28.2 120.7,28.3 121.1,28.3 121.6,28.4 122,28.4 122.4,28.5 122.9,28.5 123.3,28.6 123.8,28.6 124.2,28.6 124.7,28.7 125.1,28.7 125.6,28.8 126,28.8 126.5,28.9 126.9,28.9 127.4,29 127.8,29 128.3,29.1 128.7,29.1 129.2,29.2 129.6,29.2 130.1,29.3 130.5,29.3 131,29.3 131.4,29.4 131.8,29.4 132.3,29.5 132.7,29.5 133.2,29.6 133.6,29.6 134.1,29.7 134.5,29.7 135,29.8 135.4,29.8 135.9,29.9 136.3,29.9 136.8,30 137.2,30 137.7,30.1 138.1,30.1 138.6,30.2 139,30.2 139.4,30.3 139.9,30.3 140.3,30.4 140.8,30.5 141.2,30.5 141.7,30.6 142.1,30.6 142.6,30.7 143,30.8 143.5,30.8 143.9,30.9 144.3,31 144.8,31.1 145.2,31.1 145.7,31.2 146.1,31.3 146.6,31.3 147,31.4 147.5,31.5 147.9,31.5 148.3,31.6 148.8,31.7 149.2,31.8 149.7,31.8 150.1,31.9 150.6,32 151,32 151.5,32.1 151.9,32.2 152.3,32.2 152.8,32.3 153.2,32.4 153.7,32.4 154.1,32.5 154.6,32.6 155,32.6 155.5,32.7 155.9,32.8 156.4,32.8 156.8,32.9 157.2,33 157.7,33 158.1,33.1 158.6,33.1 159,33.2 159.5,33.3 159.9,33.3 160.4,33.4 160.8,33.5 161.3,33.5 161.7,33.6 162.1,33.7 162.6,33.7 163,33.8 163.5,33.9 163.9,33.9 164.4,34 164.8,34.1 165.2,34.2 165.7,34.3 166.1,34.4 166.6,34.5 167,34.6 167.4,34.7 167.9,34.8 168.3,34.9 168.7,35.1 169.2,35.2 169.6,35.3 170,35.4 170.5,35.6 170.9,35.7 171.3,35.8 171.7,36 172.2,36.1 172.6,36.2 173,36.4 173.5,36.5 173.9,36.6 174.3,36.8 174.7,36.9 175.2,37.1 175.6,37.2 176,37.3 176.4,37.5 176.9,37.7 177.3,37.8 177.7,38 178.1,38.1 178.5,38.3 179,38.5 179.4,38.6 179.8,38.8 180.2,39 180.6,39.2 181,39.4 181.4,39.5 181.9,39.7 182.3,39.9 182.7,40.1 183.1,40.3 183.5,40.4 183.9,40.6 184.3,40.8 184.7,41 185.1,41.2 185.6,41.4 186,41.5 186.4,41.7 186.8,41.9 187.2,42.1 187.6,42.3 188,42.5 188.4,42.6 188.8,42.8 189.3,43 189.7,43.2 190.1,43.4 190.5,43.6 190.9,43.7 191.3,43.9 191.7,44.1 192.1,44.3 192.5,44.5 193,44.6 193.4,44.8 193.8,45 194.2,45.2 194.6,45.3 195,45.5 195.5,45.7 195.9,45.8 196.3,46 196.7,46.2 197.1,46.3 197.6,46.5 198,46.6 198.4,46.8 198.8,46.9 199.2,47.1 199.7,47.2 200.1,47.4 200.5,47.5 200.9,47.7 201.4,47.8 201.8,48 202.2,48.1 202.6,48.3 203.1,48.4 203.5,48.6 203.9,48.7 204.3,48.9 204.8,49 205.2,49.2 205.6,49.3 206,49.5 206.5,49.7 206.9,49.8 207.3,50 207.7,50.1 208.1,50.3 208.6,50.4 209,50.6 209.4,50.7 209.8,50.9 210.3,51.1 210.7,51.2 211.1,51.4 211.5,51.5 211.9,51.7 212.4,51.8 212.8,52 213.2,52.2 213.6,52.3 214,52.5 214.5,52.6 214.9,52.8 215.3,52.9 215.7,53.1 216.2,53.2 216.6,53.4 217,53.5 217.4,53.7 217.9,53.8 218.3,54 218.7,54.1 219.1,54.3 219.6,54.4 220,54.6 220.4,54.7 220.8,54.9 221.3,55 221.7,55.2 222.1,55.3 222.5,55.5 223,55.6 223.4,55.8 223.8,55.9 224.2,56.1 224.7,56.2 225.1,56.4 225.5,56.5 225.9,56.7 226.3,56.8 226.8,57 227.2,57.1 227.6,57.3 228,57.5 228.4,57.6 228.8,57.8 229.3,58 229.7,58.2 230.1,58.4 230.5,58.6 230.9,58.7 231.3,58.9 231.7,59.1 232.1,59.3 232.5,59.5 232.9,59.7 233.3,59.9 233.7,60.1 234.1,60.3 234.5,60.5 234.9,60.7 235.3,60.9 235.7,61.1 236.1,61.3 236.5,61.5 236.9,61.7 237.3,61.9 237.7,62.2 238.1,62.4 238.5,62.6 238.9,62.8 239.3,63 239.7,63.3 240.1,63.5 240.5,63.7 240.8,64 241.2,64.2 241.6,64.5 242,64.7 242.3,65 242.7,65.2 243.1,65.5 243.4,65.7 243.8,66 244.2,66.3 244.5,66.5 244.9,66.8 245.3,67 245.7,67.3 246,67.5 246.4,67.8 246.8,68.1 247.1,68.3 247.5,68.6 247.9,68.8 248.2,69.1 248.6,69.4 248.9,69.6 249.3,69.9 249.7,70.2 250,70.5 250.4,70.7 250.7,71 251,71.3 251.4,71.6 251.7,71.9 252.1,72.2 252.4,72.5 252.7,72.8 253.1,73.1 253.4,73.4 253.7,73.7 254,74 254.4,74.4 254.7,74.7 255,75 255.3,75.3 255.7,75.6 256,75.9 256.3,76.2 256.7,76.5 257,76.8 257.3,77.1 257.6,77.4 258,77.7 258.3,78 258.7,78.3 259,78.6 259.3,78.9 259.7,79.2 260.1,79.4 260.4,79.7 260.8,79.9 261.2,80.2 261.5,80.4 261.9,80.7 262.3,80.9 262.7,81.1 263.1,81.3 263.5,81.6 263.9,81.8 264.3,82 264.6,82.2 265,82.4 265.4,82.6 265.8,82.9 266.2,83.1 266.6,83.3 267,83.5 267.4,83.7 267.8,83.9 268.2,84.1 268.6,84.4 269,84.6 269.4,84.8 269.8,85 270.2,85.2 270.6,85.4 271,85.6 271.4,85.9 271.8,86.1 272.2,86.3 272.5,86.5 272.9,86.7 273.3,87 273.7,87.2 274.1,87.5 274.5,87.7 274.8,87.9 275.2,88.2 275.6,88.5 275.9,88.7 276.3,89 276.6,89.3 277,89.5 277.3,89.8 277.7,90.1 278,90.4 278.4,90.7 278.7,91 279.1,91.2 279.4,91.5 279.8,91.8 280.1,92.1 280.5,92.4 280.8,92.7 281.2,93 281.5,93.3 281.8,93.5 282.2,93.8 282.5,94.1 282.9,94.4 283.2,94.7 283.6,95 283.9,95.3 284.3,95.6 284.6,95.8 285,96.1 285.3,96.4 285.7,96.7 286,97 286.3,97.3 286.7,97.6 287,97.9 287.4,98.2 287.7,98.4 288.1,98.7 288.4,99 288.8,99.3 289.1,99.6 289.4,99.9 289.8,100.2 290.1,100.5 290.5,100.8 290.8,101.1 291.1,101.4 291.5,101.7 291.8,102 292.1,102.3 292.5,102.6 292.8,102.9 293.1,103.2 293.5,103.5 293.8,103.8 294.1,104.1 294.5,104.4 294.8,104.7 295.2,105 295.5,105.3 295.8,105.6 296.2,105.9 296.5,106.2 296.8,106.5 297.2,106.8 297.5,107.1 297.8,107.4 298.2,107.7 298.5,108 298.8,108.3 299.2,108.6 299.5,108.9 299.8,109.2 300.2,109.5 300.5,109.8 300.8,110.1 301.2,110.4 301.5,110.7 301.9,111 302.2,111.3 302.5,111.6 302.9,111.9 303.2,112.2 303.6,112.5 303.9,112.8 304.2,113 304.6,113.3 304.9,113.6 305.3,113.9 305.6,114.2 306,114.5 306.3,114.7 306.7,115 307.1,115.3 307.4,115.6 307.8,115.8 308.1,116.1 308.5,116.4 308.8,116.7 309.2,117 309.5,117.2 309.9,117.5 310.2,117.8 310.6,118.1 310.9,118.3 311.3,118.6 311.7,118.9 312,119.2 312.4,119.5 312.7,119.7 313.1,120 313.4,120.3 313.8,120.6 314.1,120.9 314.5,121.1 314.8,121.4 315.2,121.7 315.5,122 315.9,122.3 316.2,122.6 316.6,122.8 316.9,123.1 317.2,123.4 317.6,123.7 317.9,124 318.2,124.3 318.6,124.6 318.9,124.9 319.2,125.3 319.6,125.6 319.9,125.9 320.2,126.2 320.5,126.5 320.8,126.8 321.2,127.2 321.5,127.5 321.8,127.8 322.1,128.1 322.4,128.4 322.7,128.7 323.1,129.1 323.4,129.4 323.7,129.7 324,130 324.3,130.3 324.7,130.7 325,131 325.3,131.3 325.6,131.6 325.9,131.9 326.2,132.2 326.6,132.6 326.9,132.9 327.2,133.2 327.5,133.5 327.8,133.8 328.2,134.2 328.5,134.5 328.8,134.8 329.1,135.1 329.4,135.4 329.7,135.7 330.1,136.1 330.4,136.4 330.7,136.7 331,137 331.3,137.3 331.7,137.6 332,138 332.3,138.3 332.6,138.6 332.9,138.9 333.3,139.2 333.6,139.5 333.9,139.8 334.3,140.1 334.6,140.4 334.9,140.8 335.2,141.1 335.6,141.4 335.9,141.7 336.2,142 336.6,142.3 336.9,142.6 337.2,142.9 337.6,143.2 337.9,143.5 338.2,143.8 338.6,144.1 338.9,144.4 339.2,144.7 339.6,145 339.9,145.3 340.2,145.6 340.5,146 340.8,146.3 341.1,146.6 341.4,146.9 341.7,147.3 342,147.6 342.3,148 342.5,148.3 342.8,148.7 343.1,149 343.3,149.4 343.6,149.8 343.8,150.2 344.1,150.5 344.3,150.9 344.6,151.3 344.8,151.7 345.1,152 345.3,152.4 345.5,152.8 345.7,153.2 345.9,153.6 346.2,154 346.3,154.4 346.5,154.8 346.7,155.2 346.9,155.6 347.1,156 347.2,156.4 347.4,156.9 347.5,157.3 347.7,157.7 347.8,158.1 348,158.5 348.1,159 348.3,159.4 348.4,159.8 348.6,160.2 348.8,160.6 348.9,161.1 349.1,161.5 349.3,161.9 349.5,162.3 349.7,162.7 349.9,163.1 350.1,163.5 350.3,163.9 350.5,164.3 350.7,164.7 350.9,165.1 351.2,165.5 351.4,165.8 351.6,166.2 351.8,166.6 352.1,167 352.3,167.4 352.6,167.8 352.8,168.2 353,168.5 353.3,168.9 353.5,169.3 353.8,169.7 354,170 354.3,170.4 354.5,170.8 354.8,171.1 355.1,171.5 355.3,171.9 355.6,172.2 355.9,172.6 356.1,172.9 356.4,173.3 356.7,173.7 356.9,174 357.2,174.4 357.5,174.7 357.8,175.1 358,175.5 358.3,175.8 358.6,176.2 358.9,176.5 359.2,176.8 359.5,177.2 359.8,177.5 360.1,177.8 360.4,178.2 360.7,178.5 361,178.8 361.3,179.1 361.6,179.4 362,179.8 362.3,180.1 362.6,180.4 362.9,180.7 363.3,181 363.6,181.3 363.9,181.6 364.2,181.9 364.5,182.2 364.9,182.6 365.2,182.9 365.5,183.2 365.8,183.6 366,183.9 366.3,184.2 366.6,184.6 366.9,184.9 367.2,185.3 367.4,185.7 367.7,186 367.9,186.4 368.2,186.8 368.5,187.1 368.7,187.5 369,187.9 369.2,188.2 369.5,188.6 369.7,189 370,189.4 370.2,189.8 370.4,190.1 370.7,190.5 370.9,190.9 371.1,191.3 371.4,191.7 371.6,192.1 371.8,192.5 372,192.9 372.2,193.3 372.4,193.6 372.6,194 372.8,194.4 373.1,194.9 373.3,195.3 373.5,195.7 373.7,196.1 373.9,196.5 374.1,196.9 374.3,197.3 374.5,197.7 374.7,198.1 374.9,198.5 375.1,198.9 375.3,199.3 375.5,199.6 375.7,200 376,200.4 376.2,200.8 376.4,201.2 376.7,201.6 376.9,202 377.1,202.3 377.4,202.7 377.6,203.1 377.9,203.5 378.1,203.9 378.4,204.2 378.6,204.6 378.9,205 379.1,205.3 379.4,205.7 379.6,206.1 379.9,206.4 380.2,206.8 380.5,207.1 380.7,207.5 381,207.8 381.3,208.2 381.6,208.5 381.9,208.8 382.2,209.2 382.5,209.5 382.8,209.8 383.1,210.2 383.4,210.5 383.8,210.8 384.1,211.1 384.4,211.4 384.7,211.8 385,212.1 385.4,212.4 385.7,212.7 386,213 386.3,213.3 386.7,213.6 387,213.9 387.3,214.2 387.7,214.5 388,214.8 388.4,215 388.7,215.3 389.1,215.6 389.5,215.9 389.8,216.1 390.2,216.4 390.6,216.6 390.9,216.9 391.3,217.1 391.7,217.4 392.1,217.6 392.4,217.9 392.8,218.2 393.2,218.4 393.5,218.7 393.9,218.9 394.3,219.2 394.6,219.4 395,219.7 395.4,219.9 395.8,220.2 396.1,220.5 396.5,220.7 396.9,221 397.2,221.2 397.6,221.5 398,221.8 398.3,222 398.7,222.3 399.1,222.5 399.4,222.8 399.8,223.1 400.2,223.3 400.5,223.6 400.9,223.8 401.3,224.1 401.6,224.3 402,224.6 402.4,224.9 402.8,225.1 403.1,225.4 403.5,225.6 403.9,225.9 404.2,226.1 404.6,226.4 405,226.6 405.4,226.9 405.7,227.1 406.1,227.4 406.5,227.6 406.9,227.9 407.2,228.1 407.6,228.4 407.9,228.7 408.3,228.9 408.6,229.2 409,229.5 409.3,229.8 409.6,230.1 410,230.4 410.3,230.7 410.6,231 410.9,231.4 411.2,231.7 411.5,232 411.8,232.4 412.1,232.7 412.4,233.1 412.7,233.4 413,233.7 413.3,234.1 413.6,234.4 413.8,234.8 414.1,235.1 414.4,235.4 414.7,235.8 415,236.1 415.3,236.4 415.6,236.8 415.9,237.1 416.2,237.5 416.5,237.8 416.8,238.1 417.1,238.4 417.5,238.8 417.8,239.1 418.1,239.4 418.4,239.7 418.7,240 419,240.3 419.4,240.6 419.7,240.9 420.1,241.2 420.4,241.4 420.8,241.7 421.2,241.9 421.6,242.1 421.9,242.4 422.3,242.6 422.7,242.8 423.1,243 423.5,243.1 423.9,243.3 424.4,243.5 424.8,243.7 425.2,243.8 425.6,244 426,244.1 426.5,244.3 426.9,244.5 427.3,244.6 427.7,244.8 428.1,244.9 428.6,245 429,245.2 429.4,245.3 429.9,245.5 430.3,245.6 430.7,245.8 431.1,245.9 431.6,246 432,246.2 432.4,246.3 432.9,246.4 433.3,246.6 433.7,246.7 434.1,246.8 434.6,246.9 435,247.1 435.4,247.2 435.9,247.3 436.3,247.4 436.8,247.5 437.2,247.6 437.6,247.6 438.1,247.7 438.5,247.8 439,247.9 439.4,247.9 439.9,248 440.3,248.1 440.7,248.1 441.2,248.2 441.6,248.2 442.1,248.3 442.5,248.3 443,248.4 443.4,248.4 443.9,248.5 444.3,248.5 444.8,248.6 445.2,248.6 445.7,248.6 446.1,248.7 446.6,248.7 447,248.7 447.5,248.8 447.9,248.8 448.4,248.8 448.8,248.9 449.3,248.9 449.7,248.9 450.1,248.9 450.6,248.9 451,248.9 451.5,248.9 451.9,248.9 452.4,248.9 452.8,248.9 453.3,248.9 453.7,248.8 454.2,248.8 454.6,248.8 455.1,248.8 455.5,248.8 456,248.7 456.4,248.7 456.9,248.7 457.3,248.6 457.8,248.6 458.2,248.6 458.7,248.6 459.1,248.5 459.6,248.5 460,248.5 460.5,248.4 460.9,248.4 461.4,248.4 461.8,248.3 462.3,248.3 462.7,248.3 463.2,248.2 463.6,248.2 464.1,248.2 464.5,248.1 465,248.1 465.4,248.1 465.9,248 466.3,248 466.8,248 467.2,247.9 467.7,247.9 468.1,247.9 468.6,247.9 469,247.8 469.5,247.8 469.9,247.8 470.4,247.8 470.8,247.8 471.3,247.7 471.7,247.7 472.2,247.7 472.6,247.7 473.1,247.7 473.5,247.7 474,247.7 474.4,247.7 474.9,247.6 475.3,247.6 475.8,247.6 476.2,247.6 476.7,247.6 477.1,247.6 477.6,247.6 478,247.6 478.5,247.6 478.9,247.6 479.4,247.5 479.8,247.5 480.3,247.5 480.7,247.5 481.2,247.5 481.6,247.5 482.1,247.5 482.5,247.5 483,247.5 483.4,247.4 483.9,247.4 484.3,247.4 484.8,247.4 485.2,247.4 485.7,247.4 486.1,247.4 486.6,247.4 487,247.4 487.5,247.3 487.9,247.3 488.3,247.3 488.8,247.3 489.2,247.3 489.7,247.3 490.1,247.2 490.6,247.2 491,247.2 491.5,247.1 491.9,247.1 492.4,247.1 492.8,247 493.3,246.9 493.7,246.9 494.1,246.8 494.5,246.7 494.9,246.5 495.3,246.4 495.7,246.2 496.1,246 496.5,245.8 496.9,245.6 497.2,245.4 497.6,245.2 497.9,244.9 498.3,244.7 498.7,244.4 499,244.2 499.4,244 499.7,243.7 500.1,243.5 500.5,243.3 500.9,243.1 501.3,243 501.7,242.8 502.1,242.7 502.5,242.6 502.9,242.5 503.4,242.4 503.8,242.4 504.2,242.3 504.7,242.2 505.1,242.2 505.6,242.2 506,242.2 506.5,242.1 506.9,242.1 507.4,242.1 507.8,242.1 508.3,242.1 508.7,242.1 509.2,242.1 509.6,242.1 510.1,242.2 510.5,242.2 511,242.2 511.4,242.2 511.9,242.2 512.3,242.2 512.8,242.3 513.2,242.3 513.7,242.3 514.1,242.3 514.6,242.3 515,242.3 515.5,242.4 515.9,242.4 516.4,242.4 516.8,242.4 517.3,242.4 517.7,242.5 518.2,242.5 518.6,242.5 519.1,242.5 519.5,242.5 520,242.5 520.4,242.6 520.8,242.6 521.3,242.6 521.7,242.6 522.1,242.6 522.5,242.7 522.9,242.7 523.2,242.7 523.6,242.7 523.9,242.7 524.1,242.7 524.4,242.7 525.5,242.8" fill="none" stroke="#0A96FF" stroke-width="6.2" stroke-linejoin="bevel"/>
<polygon points="345.1,145.6 345.5,146.2 345.9,146.7 346.3,147.2 346.7,147.5 347.1,147.8 347.4,148.3 347.7,148.8 348,149.6 348.3,150.6 348.6,151.9 348.9,153.1 349.3,154.3 349.7,155.5 350.1,156.6 350.5,157.7 350.9,158.6 351.4,159.6 351.8,160.5 352.3,161.4 352.8,162.3 353.3,163.2 353.8,164 354.3,164.9 354.8,165.7 355.3,166.5 355.9,167.3 356.4,168.1 356.9,168.8 357.5,169.6 358,170.3 358.6,171.2 359.2,172 359.8,172.8 360.4,173.5 361,174.2 361.6,175 362.3,175.5 362.9,176.1 363.6,176.5 364.2,177.4 364.9,177.7 365.5,178.4 366,178.8 366.6,179.4 367.2,180.1 367.7,180.6 368.2,181.3 368.7,181.5 369.2,181.9 369.7,182.9 370.2,183.3 370.7,184.4 371.1,184.4 371.6,185.6 372,186.2 372.4,186.8 372.8,187 373.3,188 373.7,188.7 374.1,189.3 374.5,190.7 374.9,191.4 375.3,192.6 375.7,193.3 376.2,194.3 376.7,195.3 377.1,196.1 377.6,197.1 378.1,197.8 378.6,198.9 379.1,199.6 379.6,200.1 380.2,200.9 380.7,202.3 381.3,203.2 381.9,203.1 382.5,204.5 383.1,205.4 383.8,206 384.4,206.8 385,207.3 385.7,208.3 386.3,209 387,209.6 387.7,210.1 388.4,210.7 389.1,211.5 389.8,211.5 390.6,212.6 391.3,212.9 392.1,213.3 392.8,213.7 393.5,214.1 394.3,214.6 395,215.7 395.8,216.2 396.5,216.3 397.2,216.8 398,217.6 398.7,217.7 399.4,218.5 400.2,219.2 400.9,219.2 401.6,219.9 402.4,220.7 403.1,219.4 403.9,221.2 404.6,221.8 405.4,221.1 406.1,222.1 406.9,223.4 407.6,224.1 408.3,223.4 409,223.8 409.6,225 410.3,224 410.9,226.3 411.5,226.8 412.1,226.7 412.7,227.8 413.3,229 413.8,229.5 414.4,229.9 415,229.7 415.6,231.1 416.2,231.5 416.8,232.7 417.5,233 418.1,232.3 418.7,235.3 419.4,236 420.1,236.4 420.8,237.5 421.6,238.7 422.3,238 423.1,239.3 423.9,237.5 424.8,238.3 425.6,238.3 426.5,240.1 427.3,239.8 428.1,238.3 429,238.2 429.9,241.4 430.7,241.5 431.6,242.5 432.4,242.9 433.3,243.3 434.1,243.4 435,243.8 435.9,242.2 436.8,240 437.6,242.1 438.5,241.6 439.4,243.4 440.3,243.9 441.2,244.8 442.1,244.1 443,242.8 443.9,244.3 444.8,243.5 445.7,244.3 446.6,244.2 447.5,242.7 448.4,243.1 449.3,244 450.1,243.2 451,241.6 451.9,244.9 452.8,244.7 453.7,243.7 454.6,245 455.5,244.7 456.4,243.7 457.3,242.2 458.2,243.8 459.1,244.1 460,242.1 460.9,243.2 461.8,241.1 462.7,243.9 463.6,244.4 464.5,241 465.4,243.9 466.3,243.9 467.2,244.2 468.1,244.5 469,243.8 469.9,242.6 470.8,241.1 471.7,241.4 472.6,243 473.5,243.1 474.4,242.7 475.3,243.5 476.2,245 477.1,244.9 478,243.6 478.9,241.3 479.8,242.4 480.7,241.4 481.6,243.6 482.5,241.3 483.4,239.5 484.3,242.6 485.2,242.5 486.1,243 487,243.8 487.9,243.5 488.8,243.6 489.7,239.4 490.6,238.3 491.5,242.7 492.4,242.6 493.3,242.8 494.1,242.4 494.9,240.5 495.7,241.2 496.5,240.5 497.2,237.9 497.9,238.2 498.7,236.6 499.4,235 500.1,239.9 500.9,240.2 501.7,235.4 502.5,236.7 503.4,238.7 504.2,235.8 505.1,235.7 506,234.6 506.9,235.8 507.8,237.9 508.7,238.8 509.6,238.9 510.5,238.2 511.4,233.3 512.3,235.8 513.2,238.6 514.1,238.5 515,237 515.9,236.7 516.8,237 517.7,237.4 518.6,237.9 519.5,234.3 520.4,238.3 521.3,238.8 522.1,235.9 522.9,238.5 523.6,238 524.1,238.2 525.5,238.1 525.5,250.1 524.1,247 523.6,251.5 522.9,249.1 522.1,248.6 521.3,247.5 520.4,248.3 519.5,248.1 518.6,249.7 517.7,247 516.8,250 515.9,246.5 515,247.6 514.1,246.9 513.2,251.8 512.3,248.8 511.4,249.8 510.5,247.8 509.6,247.8 508.7,248.1 507.8,247.1 506.9,245.4 506,244.5 505.1,246 504.2,250.6 503.4,249.3 502.5,247.6 501.7,249 500.9,248.9 500.1,249.1 499.4,250.7 498.7,248.2 497.9,251.8 497.2,249.2 496.5,250.8 495.7,251.3 494.9,251.7 494.1,252.7 493.3,251.2 492.4,252.9 491.5,255 490.6,251 489.7,255.4 488.8,251.6 487.9,255 487,251.8 486.1,251.3 485.2,255.4 484.3,251.1 483.4,252.3 482.5,251.8 481.6,253.8 480.7,251.2 479.8,250.4 478.9,251.8 478,256 477.1,255.7 476.2,257 475.3,252.2 474.4,251.6 473.5,251.2 472.6,255.1 471.7,251.1 470.8,252.2 469.9,252.8 469,251.8 468.1,252.5 467.2,256.6 466.3,252.1 465.4,252.6 464.5,255.9 463.6,252.8 462.7,254.2 461.8,252 460.9,252.3 460,256.4 459.1,253.1 458.2,252.9 457.3,254.3 456.4,252.5 455.5,254.2 454.6,253.8 453.7,256.6 452.8,255.2 451.9,253.7 451,253.1 450.1,253.4 449.3,252.7 448.4,252.1 447.5,255.6 446.6,252.2 445.7,253.3 444.8,253.9 443.9,255.9 443,253.5 442.1,255.1 441.2,252.5 440.3,252.6 439.4,253.5 438.5,252.2 437.6,250 436.8,251.6 435.9,251.8 435,251.9 434.1,251.8 433.3,252.7 432.4,251 431.6,250.9 430.7,250 429.9,249.1 429,249 428.1,250.4 427.3,249.3 426.5,247.9 425.6,246.7 424.8,246.7 423.9,246.6 423.1,247.7 422.3,249 421.6,247.6 420.8,247.7 420.1,246.1 419.4,245.6 418.7,245 418.1,245.9 417.5,246.1 416.8,243.7 416.2,241.9 415.6,241.4 415,241 414.4,241.3 413.8,240.3 413.3,240.1 412.7,239.1 412.1,237.8 411.5,236.9 410.9,237.8 410.3,237.1 409.6,235.3 409,234.8 408.3,235 407.6,233.3 406.9,233.7 406.1,233.3 405.4,231.3 404.6,230.1 403.9,229.5 403.1,229.3 402.4,229 401.6,228.8 400.9,228.1 400.2,227.7 399.4,227.1 398.7,226.4 398,226.2 397.2,225.6 396.5,225.4 395.8,224.5 395,224.2 394.3,223.9 393.5,222.8 392.8,222.4 392.1,221.5 391.3,221.8 390.6,221.8 389.8,220.3 389.1,219.8 388.4,219.3 387.7,219.3 387,218.8 386.3,218.1 385.7,218.4 385,216.6 384.4,216.3 383.8,215.3 383.1,215 382.5,214.2 381.9,213.7 381.3,213.3 380.7,212.7 380.2,212.4 379.6,211.6 379.1,211.4 378.6,210.7 378.1,209.6 377.6,209.3 377.1,208.3 376.7,207.7 376.2,207.2 375.7,206.7 375.3,205.8 374.9,205.3 374.5,204.6 374.1,203.9 373.7,203.2 373.3,202.5 372.8,201.4 372.4,200.7 372,199.6 371.6,198.9 371.1,197.6 370.7,196.8 370.2,195.7 369.7,195.3 369.2,194.1 368.7,193.1 368.2,192.4 367.7,191.4 367.2,190.5 366.6,189.7 366,189.4 365.5,188 364.9,187.3 364.2,186.5 363.6,185.8 362.9,185.2 362.3,184.5 361.6,183.9 361,183.4 360.4,182.8 359.8,182.2 359.2,182 358.6,181.1 358,180.5 357.5,179.9 356.9,179.2 356.4,178.6 355.9,177.9 355.3,177.2 354.8,176.5 354.3,175.9 353.8,175.3 353.3,174.6 352.8,174 352.3,173.4 351.8,172.7 351.4,172.2 350.9,171.5 350.5,170.9 350.1,170.4 349.7,169.9 349.3,169.4 348.9,169 348.6,168.6 348.3,168.1 348,167.4 347.7,166.6 347.4,165.4 347.1,164.2 346.7,162.8 346.3,161.5 345.9,160.5 345.5,159.5 345.1,158.5" fill="#0A96FF"/>
<polyline points="7,22.9 8,22.9 8.2,23 8.5,23 8.8,23 9.1,23 9.5,23 9.8,23 10.2,23.1 10.6,23.1 11.1,23.1 11.5,23.1 11.9,23.1 12.4,23.2 12.8,23.2 13.3,23.2 13.7,23.2 14.2,23.2 14.6,23.3 15.1,23.3 15.5,23.3 16,23.3 16.4,23.4 16.9,23.4 17.3,23.4 17.8,23.4 18.2,23.4 18.7,23.5 19.1,23.5 19.6,23.5 20,23.5 20.5,23.6 20.9,23.6 21.4,23.6 21.8,23.6 22.3,23.6 22.7,23.7 23.2,23.7 23.6,23.7 24.1,23.7 24.5,23.7 25,23.8 25.4,23.8 25.9,23.8 26.3,23.8 26.8,23.9 27.2,23.9 27.7,23.9 28.1,23.9 28.6,23.9 29,24 29.5,24 29.9,24 30.4,24 30.8,24.1 31.3,24.1 31.7,24.1 32.2,24.1 32.6,24.1 33.1,24.2 33.5,24.2 34,24.2 34.4,24.2 34.9,24.3 35.3,24.3 35.8,24.3 36.2,24.3 36.7,24.3 37.1,24.4 37.6,24.4 38,24.4 38.5,24.4 38.9,24.4 39.4,24.5 39.8,24.5 40.3,24.5 40.7,24.5 41.2,24.5 41.6,24.6 42.1,24.6 42.5,24.6 43,24.6 43.4,24.6 43.9,24.7 44.3,24.7 44.8,24.7 45.2,24.7 45.7,24.7 46.1,24.8 46.6,24.8 47,24.8 47.5,24.8 47.9,24.8 48.4,24.9 48.8,24.9 49.3,24.9 49.7,24.9 50.2,24.9 50.6,24.9 51.1,25 51.5,25 52,25 52.4,25 52.8,25 53.3,25.1 53.7,25.1 54.2,25.1 54.6,25.1 55.1,25.1 55.5,25.2 56,25.2 56.4,25.2 56.9,25.2 57.3,25.2 57.8,25.2 58.2,25.3 58.7,25.3 59.1,25.3 59.6,25.3 60,25.3 60.5,25.4 60.9,25.4 61.4,25.4 61.8,25.4 62.3,25.5 62.7,25.5 63.2,25.5 63.6,25.5 64.1,25.6 64.5,25.6 65,25.6 65.4,25.6 65.9,25.7 66.3,25.7 66.8,25.7 67.2,25.8 67.7,25.8 68.1,25.8 68.6,25.9 69,25.9 69.5,25.9 69.9,26 70.4,26 70.8,26 71.3,26.1 71.7,26.1 72.2,26.1 72.6,26.2 73.1,26.2 73.5,26.2 74,26.3 74.4,26.3 74.9,26.3 75.3,26.4 75.8,26.4 76.2,26.4 76.7,26.5 77.1,26.5 77.6,26.6 78,26.6 78.4,26.6 78.9,26.7 79.3,26.7 79.8,26.7 80.2,26.8 80.7,26.8 81.1,26.8 81.6,26.9 82,26.9 82.5,26.9 82.9,27 83.4,27 83.8,27 84.3,27.1 84.7,27.1 85.2,27.1 85.6,27.2 86.1,27.2 86.5,27.2 87,27.3 87.4,27.3 87.9,27.3 88.3,27.4 88.8,27.4 89.2,27.4 89.7,27.5 90.1,27.5 90.6,27.5 91,27.6 91.5,27.6 91.9,27.6 92.4,27.7 92.8,27.7 93.3,27.8 93.7,27.8 94.2,27.8 94.6,27.9 95,27.9 95.5,27.9 95.9,28 96.4,28 96.8,28 97.3,28.1 97.7,28.1 98.2,28.2 98.6,28.2 99.1,28.2 99.5,28.3 100,28.3 100.4,28.4 100.9,28.4 101.3,28.4 101.8,28.5 102.2,28.5 102.7,28.6 103.1,28.6 103.6,28.6 104,28.7 104.5,28.7 104.9,28.8 105.4,28.8 105.8,28.8 106.3,28.9 106.7,28.9 107.2,29 107.6,29 108,29 108.5,29.1 108.9,29.1 109.4,29.2 109.8,29.2 110.3,29.2 110.7,29.3 111.2,29.3 111.6,29.4 112.1,29.4 112.5,29.4 113,29.5 113.4,29.5 113.9,29.6 114.3,29.6 114.8,29.6 115.2,29.7 115.7,29.7 116.1,29.8 116.6,29.8 117,29.8 117.5,29.9 117.9,29.9 118.4,30 118.8,30 119.3,30.1 119.7,30.1 120.1,30.2 120.6,30.2 121,30.3 121.5,30.3 121.9,30.4 122.4,30.4 122.8,30.5 123.3,30.5 123.7,30.6 124.2,30.7 124.6,30.7 125.1,30.8 125.5,30.8 125.9,30.9 126.4,31 126.8,31 127.3,31.1 127.7,31.1 128.2,31.2 128.6,31.3 129.1,31.3 129.5,31.4 130,31.4 130.4,31.5 130.9,31.6 131.3,31.6 131.7,31.7 132.2,31.7 132.6,31.8 133.1,31.9 133.5,31.9 134,32 134.4,32 134.9,32.1 135.3,32.2 135.8,32.2 136.2,32.3 136.6,32.4 137.1,32.4 137.5,32.5 138,32.5 138.4,32.6 138.9,32.7 139.3,32.7 139.8,32.8 140.2,32.9 140.7,33 141.1,33 141.5,33.1 142,33.2 142.4,33.3 142.9,33.4 143.3,33.5 143.7,33.5 144.2,33.6 144.6,33.7 145.1,33.8 145.5,33.9 146,34 146.4,34.1 146.8,34.1 147.3,34.2 147.7,34.3 148.2,34.4 148.6,34.5 149,34.6 149.5,34.7 149.9,34.7 150.4,34.8 150.8,34.9 151.3,35 151.7,35.1 152.1,35.2 152.6,35.3 153,35.3 153.5,35.4 153.9,35.5 154.4,35.6 154.8,35.7 155.2,35.8 155.7,35.8 156.1,35.9 156.6,36 157,36.1 157.4,36.2 157.9,36.3 158.3,36.4 158.8,36.4 159.2,36.5 159.7,36.6 160.1,36.7 160.5,36.8 161,36.9 161.4,36.9 161.9,37 162.3,37.1 162.8,37.2 163.2,37.3 163.6,37.4 164.1,37.4 164.5,37.5 165,37.6 165.4,37.7 165.8,37.8 166.3,37.9 166.7,38 167.2,38.1 167.6,38.2 168,38.3 168.5,38.4 168.9,38.5 169.4,38.6 169.8,38.7 170.2,38.8 170.7,38.9 171.1,39 171.5,39.1 172,39.2 172.4,39.3 172.9,39.4 173.3,39.5 173.7,39.6 174.2,39.7 174.6,39.8 175,39.9 175.5,40 175.9,40.1 176.4,40.2 176.8,40.4 177.2,40.5 177.7,40.6 178.1,40.7 178.5,40.8 179,40.9 179.4,41 179.8,41.2 180.3,41.3 180.7,41.4 181.1,41.5 181.6,41.6 182,41.7 182.4,41.9 182.9,42 183.3,42.1 183.7,42.2 184.2,42.3 184.6,42.5 185,42.6 185.5,42.7 185.9,42.8 186.3,42.9 186.8,43.1 187.2,43.2 187.6,43.3 188.1,43.5 188.5,43.6 188.9,43.7 189.4,43.8 189.8,44 190.2,44.1 190.7,44.2 191.1,44.4 191.5,44.5 192,44.6 192.4,44.8 192.8,44.9 193.2,45 193.7,45.2 194.1,45.3 194.5,45.4 195,45.5 195.4,45.7 195.8,45.8 196.3,45.9 196.7,46 197.1,46.1 197.6,46.3 198,46.4 198.4,46.5 198.9,46.6 199.3,46.7 199.7,46.8 200.2,46.9 200.6,47.1 201,47.2 201.5,47.3 201.9,47.4 202.4,47.5 202.8,47.6 203.2,47.8 203.7,47.9 204.1,48 204.5,48.1 205,48.2 205.4,48.3 205.8,48.5 206.3,48.6 206.7,48.7 207.1,48.8 207.6,49 208,49.1 208.4,49.2 208.8,49.4 209.3,49.5 209.7,49.6 210.1,49.7 210.6,49.9 211,50 211.4,50.1 211.9,50.3 212.3,50.4 212.7,50.5 213.1,50.7 213.6,50.8 214,50.9 214.4,51.1 214.9,51.2 215.3,51.3 215.7,51.5 216.2,51.6 216.6,51.8 217,51.9 217.4,52 217.9,52.2 218.3,52.3 218.7,52.4 219.2,52.6 219.6,52.7 220,52.9 220.4,53 220.9,53.2 221.3,53.3 221.7,53.4 222.1,53.6 222.6,53.7 223,53.9 223.4,54 223.8,54.2 224.3,54.3 224.7,54.4 225.1,54.6 225.6,54.7 226,54.9 226.4,55 226.8,55.2 227.2,55.3 227.7,55.5 228.1,55.6 228.5,55.8 228.9,56 229.3,56.1 229.8,56.3 230.2,56.5 230.6,56.7 231,56.8 231.4,57 231.8,57.2 232.3,57.4 232.7,57.5 233.1,57.7 233.5,57.9 233.9,58.1 234.3,58.2 234.7,58.4 235.1,58.6 235.6,58.8 236,59 236.4,59.1 236.8,59.3 237.2,59.5 237.6,59.7 238,59.9 238.4,60.1 238.8,60.2 239.2,60.4 239.7,60.6 240.1,60.8 240.5,61 240.9,61.2 241.3,61.4 241.7,61.6 242.1,61.8 242.5,62 242.9,62.2 243.3,62.4 243.7,62.6 244.1,62.8 244.5,63 244.9,63.2 245.3,63.4 245.7,63.6 246.1,63.8 246.5,64 246.9,64.2 247.3,64.4 247.7,64.7 248.1,64.9 248.5,65.1 248.9,65.3 249.3,65.5 249.7,65.7 250.1,66 250.4,66.2 250.8,66.4 251.2,66.7 251.6,66.9 251.9,67.2 252.3,67.4 252.7,67.7 253,67.9 253.4,68.2 253.8,68.5 254.1,68.7 254.5,69 254.9,69.3 255.2,69.5 255.6,69.8 256,70.1 256.3,70.3 256.7,70.6 257.1,70.9 257.4,71.1 257.8,71.4 258.2,71.6 258.5,71.9 258.9,72.2 259.3,72.4 259.6,72.7 260,72.9 260.4,73.2 260.8,73.4 261.1,73.7 261.5,73.9 261.9,74.1 262.3,74.4 262.7,74.6 263,74.9 263.4,75.1 263.8,75.3 264.2,75.6 264.6,75.8 264.9,76 265.3,76.3 265.7,76.5 266.1,76.7 266.5,77 266.9,77.2 267.2,77.5 267.6,77.7 268,77.9 268.4,78.2 268.8,78.4 269.2,78.6 269.5,78.9 269.9,79.1 270.3,79.3 270.7,79.6 271.1,79.8 271.5,80 271.8,80.3 272.2,80.5 272.6,80.8 273,81 273.4,81.2 273.8,81.5 274.1,81.7 274.5,82 274.9,82.2 275.3,82.4 275.7,82.7 276,82.9 276.4,83.2 276.8,83.4 277.2,83.7 277.5,83.9 277.9,84.1 278.3,84.4 278.7,84.6 279.1,84.9 279.4,85.1 279.8,85.4 280.2,85.6 280.6,85.9 280.9,86.1 281.3,86.4 281.7,86.6 282.1,86.8 282.4,87.1 282.8,87.3 283.2,87.6 283.6,87.8 284,88.1 284.3,88.3 284.7,88.6 285.1,88.8 285.5,89.1 285.8,89.3 286.2,89.6 286.6,89.8 287,90.1 287.3,90.3 287.7,90.6 288.1,90.8 288.4,91.1 288.8,91.3 289.2,91.6 289.5,91.8 289.9,92.1 290.3,92.4 290.6,92.7 291,92.9 291.3,93.2 291.7,93.5 292.1,93.7 292.4,94 292.8,94.3 293.1,94.6 293.5,94.9 293.8,95.1 294.2,95.4 294.5,95.7 294.9,96 295.2,96.3 295.6,96.5 295.9,96.8 296.3,97.1 296.6,97.4 297,97.7 297.3,98 297.7,98.2 298,98.5 298.4,98.8 298.7,99.1 299.1,99.4 299.5,99.6 299.8,99.9 300.2,100.2 300.5,100.5 300.9,100.8 301.2,101 301.6,101.3 301.9,101.6 302.3,101.9 302.6,102.2 302.9,102.5 303.3,102.8 303.6,103 304,103.3 304.3,103.6 304.7,103.9 305,104.2 305.3,104.5 305.7,104.8 306,105.1 306.3,105.4 306.6,105.8 307,106.1 307.3,106.4 307.6,106.7 307.9,107 308.3,107.3 308.6,107.6 308.9,107.9 309.2,108.2 309.6,108.6 309.9,108.9 310.2,109.2 310.5,109.5 310.9,109.8 311.2,110.1 311.5,110.4 311.8,110.7 312.2,111 312.5,111.4 312.8,111.7 313.1,112 313.5,112.3 313.8,112.6 314.1,112.9 314.4,113.2 314.8,113.5 315.1,113.8 315.4,114.2 315.7,114.5 316.1,114.8 316.4,115.1 316.7,115.4 317,115.7 317.3,116 317.7,116.4 318,116.7 318.3,117 318.6,117.3 318.9,117.7 319.2,118 319.5,118.3 319.8,118.6 320.1,119 320.4,119.3 320.7,119.7 321,120 321.3,120.3 321.6,120.7 321.9,121 322.2,121.4 322.5,121.7 322.8,122.1 323,122.4 323.3,122.7 323.6,123.1 323.9,123.4 324.2,123.8 324.5,124.1 324.8,124.5 325.1,124.8 325.4,125.1 325.7,125.5 326,125.8 326.3,126.1 326.6,126.5 326.9,126.8 327.2,127.2 327.5,127.5 327.7,127.8 328,128.2 328.3,128.5 328.6,128.9 328.8,129.2 329.1,129.6 329.3,130 329.5,130.4 329.8,130.7 330,131.1 330.2,131.5 330.4,131.9 330.6,132.3 330.8,132.7 331,133.1 331.2,133.5 331.4,133.9 331.6,134.4 331.8,134.8 331.9,135.2 332.1,135.6 332.3,136 332.5,136.4 332.7,136.8 332.9,137.2 333.1,137.6 333.3,138 333.4,138.4 333.6,138.9 333.8,139.3 334,139.7 334.2,140.1 334.4,140.5 334.6,140.9 334.8,141.3 334.9,141.7 335.1,142.1 335.3,142.5 335.5,142.9 335.7,143.4 335.9,143.8 336.1,144.2 336.3,144.6 336.4,145 336.6,145.4 336.8,145.8 337,146.2 337.2,146.6 337.4,147 337.6,147.4 337.8,147.9 337.9,148.3 338.1,148.7 338.3,149.1 338.5,149.5 338.7,149.9 338.9,150.3 339.1,150.7 339.3,151.1 339.5,151.5 339.6,151.9 339.8,152.3 340,152.7 340.2,153.2 340.4,153.6 340.6,154 340.8,154.4 341,154.8 341.2,155.2 341.4,155.6 341.6,156 341.8,156.4 342,156.8 342.1,157.2 342.3,157.6 342.5,158 342.7,158.4 342.9,158.8 343.1,159.3 343.3,159.7 343.5,160.1 343.7,160.5 343.9,160.9 344.1,161.3 344.3,161.7 344.5,162.1 344.7,162.5 344.9,162.9 345.1,163.3 345.3,163.7 345.5,164.1 345.8,164.5 346,164.9 346.2,165.2 346.4,165.6 346.7,166 346.9,166.4 347.2,166.7 347.5,167.1 347.7,167.4 348,167.8 348.3,168.1 348.6,168.5 348.8,168.8 349.1,169.2 349.4,169.5 349.7,169.9 350,170.2 350.3,170.6 350.6,170.9 350.9,171.2 351.2,171.6 351.5,171.9 351.8,172.3 352.1,172.6 352.4,172.9 352.7,173.3 353,173.6 353.3,173.9 353.6,174.3 353.9,174.6 354.2,174.9 354.5,175.2 354.8,175.6 355.1,175.9 355.5,176.2 355.8,176.5 356.1,176.8 356.5,177.1 356.8,177.4 357.1,177.7 357.5,178 357.8,178.2 358.2,178.5 358.5,178.8 358.9,179.1 359.2,179.4 359.6,179.7 359.9,179.9 360.3,180.2 360.6,180.5 361,180.8 361.3,181 361.7,181.3 362.1,181.6 362.4,181.9 362.8,182.1 363.1,182.4 363.5,182.7 363.9,182.9 364.2,183.2 364.6,183.5 365,183.7 365.3,184 365.7,184.2 366.1,184.5 366.4,184.7 366.8,185 367.2,185.2 367.6,185.5 367.9,185.7 368.3,186 368.7,186.2 369.1,186.4 369.5,186.6 369.9,186.8 370.3,187 370.7,187.2 371.1,187.4 371.5,187.6 371.9,187.8 372.3,188 372.7,188.2 373.1,188.3 373.5,188.5 373.9,188.8 374.3,189 374.6,189.2 375,189.5 375.3,189.7 375.7,190 376,190.3 376.3,190.6 376.6,190.9 376.9,191.2 377.2,191.5 377.5,191.9 377.8,192.2 378.1,192.6 378.3,192.9 378.6,193.3 378.9,193.6 379.1,194 379.4,194.4 379.7,194.7 379.9,195.1 380.2,195.5 380.4,195.8 380.6,196.2 380.9,196.6 381.1,197 381.3,197.4 381.5,197.8 381.8,198.2 382,198.6 382.2,199 382.4,199.4 382.6,199.7 382.8,200.1 383,200.5 383.3,200.9 383.5,201.3 383.7,201.7 384,202 384.2,202.4 384.5,202.8 384.8,203.1 385.1,203.4 385.3,203.8 385.6,204.1 386,204.4 386.3,204.7 386.6,205.1 386.9,205.4 387.2,205.7 387.6,206 387.9,206.3 388.3,206.5 388.6,206.8 388.9,207.1 389.3,207.4 389.6,207.7 390,208 390.4,208.2 390.7,208.5 391.1,208.7 391.5,209 391.8,209.3 392.2,209.5 392.6,209.8 392.9,210 393.3,210.3 393.7,210.5 394.1,210.7 394.4,211 394.8,211.2 395.2,211.5 395.6,211.7 395.9,212 396.3,212.3 396.7,212.5 397,212.8 397.4,213 397.8,213.3 398.1,213.6 398.5,213.8 398.9,214.1 399.2,214.4 399.6,214.7 399.9,214.9 400.3,215.2 400.6,215.5 400.9,215.8 401.3,216.1 401.6,216.4 401.9,216.7 402.3,217 402.6,217.3 402.9,217.6 403.2,218 403.5,218.3 403.8,218.6 404.2,218.9 404.5,219.3 404.8,219.6 405.1,219.9 405.4,220.3 405.7,220.6 406,220.9 406.3,221.2 406.6,221.6 406.9,221.9 407.2,222.2 407.5,222.5 407.9,222.9 408.2,223.2 408.5,223.5 408.8,223.8 409.2,224.1 409.5,224.4 409.8,224.7 410.1,225 410.5,225.3 410.8,225.6 411.1,225.9 411.4,226.3 411.6,226.6 411.9,226.9 412.2,227.3 412.4,227.6 412.7,228 412.9,228.4 413.1,228.8 413.3,229.2 413.5,229.6 413.7,230 413.8,230.4 414,230.8 414.2,231.2 414.4,231.6 414.5,232 414.7,232.5 414.9,232.9 415,233.3 415.2,233.7 415.3,234.1 415.5,234.6 415.7,235 415.8,235.4 416,235.8 416.2,236.2 416.4,236.6 416.5,237.1 416.7,237.5 416.9,237.9 417,238.3 417.2,238.7 417.4,239.1 417.6,239.5 417.8,239.9 418,240.3 418.2,240.7 418.5,241.1 418.7,241.4 418.9,241.8 419.2,242.2 419.5,242.5 419.7,242.9 420,243.2 420.3,243.5 420.6,243.9 420.9,244.2 421.2,244.5 421.6,244.8 421.9,245.1 422.2,245.5 422.5,245.8 422.9,246.1 423.2,246.4 423.5,246.7 423.9,247 424.2,247.2 424.6,247.5 424.9,247.8 425.3,248.1 425.6,248.3 426,248.6 426.4,248.8 426.7,249.1 427.1,249.3 427.5,249.6 427.9,249.8 428.3,250 428.7,250.3 429,250.5 429.4,250.7 429.8,250.9 430.2,251.1 430.6,251.3 431,251.5 431.4,251.7 431.9,251.8 432.3,252 432.7,252.2 433.1,252.4 433.5,252.5 433.9,252.7 434.4,252.8 434.8,253 435.2,253.2 435.6,253.3 436,253.5 436.5,253.6 436.9,253.8 437.3,254 437.7,254.1 438.2,254.3 438.6,254.4 439,254.6 439.4,254.7 439.8,254.9 440.3,255 440.7,255.2 441.1,255.3 441.5,255.5 442,255.6 442.4,255.8 442.8,255.9 443.2,256.1 443.7,256.2 444.1,256.4 444.5,256.5 444.9,256.6 445.4,256.8 445.8,256.9 446.2,257.1 446.7,257.2 447.1,257.3 447.5,257.5 447.9,257.6 448.4,257.8 448.8,257.9 449.2,258 449.7,258.2 450.1,258.3 450.5,258.4 450.9,258.6 451.4,258.7 451.8,258.9 452.2,259 452.7,259.1 453.1,259.3 453.5,259.4 453.9,259.5 454.4,259.7 454.8,259.8 455.2,260 455.7,260.1 456.1,260.2 456.5,260.4 456.9,260.5 457.4,260.6 457.8,260.8 458.2,260.9 458.6,261.1 459.1,261.2 459.5,261.4 459.9,261.5 460.4,261.6 460.8,261.8 461.2,261.9 461.6,262.1 462.1,262.2 462.5,262.4 462.9,262.5 463.3,262.7 463.8,262.8 464.2,263 464.6,263.1 465,263.2 465.5,263.4 465.9,263.5 466.3,263.7 466.7,263.8 467.2,264 467.6,264.1 468,264.3 468.4,264.4 468.9,264.6 469.3,264.7 469.7,264.9 470.1,265 470.6,265.2 471,265.3 471.4,265.5 471.8,265.6 472.3,265.8 472.7,265.9 473.1,266.1 473.5,266.2 473.9,266.4 474.4,266.6 474.8,266.7 475.2,266.9 475.6,267.1 476,267.2 476.5,267.4 476.9,267.6 477.3,267.7 477.7,267.9 478.1,268.1 478.5,268.3 478.9,268.5 479.3,268.7 479.7,268.9 480.1,269.1 480.5,269.3 480.9,269.5 481.3,269.7 481.7,269.9 482.1,270.1 482.5,270.3 482.9,270.5 483.4,270.7 483.8,270.9 484.2,271.1 484.5,271.3 484.9,271.5 485.3,271.7 485.7,271.9 486.1,272.2 486.5,272.4 486.9,272.6 487.3,272.8 487.7,273 488.1,273.3 488.5,273.5 488.9,273.7 489.3,273.9 489.6,274.2 490,274.4 490.4,274.6 490.8,274.9 491.2,275.1 491.6,275.3 492,275.6 492.4,275.8 492.7,276 493.1,276.2 493.5,276.5 493.9,276.7 494.3,276.9 494.7,277.1 495.1,277.4 495.5,277.6 495.9,277.8 496.3,278 496.7,278.2 497.1,278.4 497.5,278.6 497.9,278.8 498.3,279 498.7,279.3 499.1,279.5 499.5,279.7 499.9,279.9 500.3,280.1 500.7,280.3 501.1,280.5 501.5,280.7 501.9,280.9 502.3,281.1 502.7,281.3 503.1,281.5 503.5,281.7 503.9,281.9 504.3,282.1 504.7,282.3 505.1,282.6 505.5,282.8 505.8,283 506.2,283.2 506.6,283.4 507,283.6 507.4,283.8 507.8,284.1 508.2,284.3 508.6,284.5 509,284.7 509.4,285 509.8,285.2 510.2,285.4 510.6,285.6 510.9,285.9 511.3,286.1 511.7,286.3 512.1,286.5 512.5,286.8 512.9,287 513.3,287.2 513.7,287.4 514.1,287.6 514.4,287.9 514.8,288.1 515.2,288.3 515.6,288.5 516,288.8 516.4,289 516.8,289.2 517.2,289.4 517.6,289.6 518,289.9 518.4,290.1 518.8,290.3 519.2,290.5 519.6,290.7 520,290.9 520.4,291.1 520.8,291.3 521.2,291.5 521.6,291.7 521.9,291.9 522.3,292 522.7,292.2 523,292.4 523.3,292.5 523.6,292.6 523.9,292.8 524.2,292.9 524.4,293 525.5,293.5" fill="none" stroke="#FF0000" stroke-width="6.2" stroke-linejoin="bevel"/>
<polygon points="345.1,157 345.5,158 346,158.9 346.4,159.8 346.9,160.8 347.5,161.8 348,162.7 348.6,163.5 349.1,164.2 349.7,165 350.3,165.7 350.9,166.3 351.5,167.1 352.1,167.8 352.7,168.6 353.3,169.2 353.9,170.1 354.5,170.8 355.1,171.5 355.8,172.1 356.5,172.8 357.1,173.4 357.8,173.9 358.5,174.7 359.2,175.3 359.9,175.8 360.6,176.5 361.3,176.9 362.1,177.6 362.8,178.1 363.5,178.4 364.2,179.2 365,179.7 365.7,180.2 366.4,180.4 367.2,181.4 367.9,181.9 368.7,181.8 369.5,182.8 370.3,183.3 371.1,183.8 371.9,184 372.7,184.3 373.5,184.6 374.3,184.9 375,185.5 375.7,185.5 376.3,186.1 376.9,186.3 377.5,186.9 378.1,187.4 378.6,187.9 379.1,188.1 379.7,188.9 380.2,189.5 380.6,189.7 381.1,190.7 381.5,191 382,191.9 382.4,192.3 382.8,193.2 383.3,194.7 383.7,195.2 384.2,196.9 384.8,197.7 385.3,198.4 386,199.7 386.6,200 387.2,200.7 387.9,201.9 388.6,202.1 389.3,203.2 390,203.8 390.7,203.7 391.5,205.2 392.2,204.9 392.9,205.9 393.7,205.4 394.4,206.2 395.2,206.7 395.9,207.6 396.7,208.2 397.4,208.6 398.1,208.8 398.9,209.1 399.6,209.6 400.3,210.3 400.9,211.7 401.6,211.9 402.3,211.9 402.9,212.7 403.5,213.2 404.2,214.3 404.8,214.8 405.4,215.3 406,215.3 406.6,215.8 407.2,214.9 407.9,216.2 408.5,217.9 409.2,219.8 409.8,220.7 410.5,221.1 411.1,220.7 411.6,221.6 412.2,221.6 412.7,219.5 413.1,221.9 413.5,221.9 413.8,222.2 414.2,222.3 414.5,223.3 414.9,224 415.2,224 415.5,225.7 415.8,226.3 416.2,226.5 416.5,227.4 416.9,229.3 417.2,230.4 417.6,231.7 418,232.8 418.5,233.8 418.9,235.2 419.5,235.8 420,235.1 420.6,236.7 421.2,239.6 421.9,241.1 422.5,241.3 423.2,241.5 423.9,242 424.6,243.3 425.3,243.7 426,242.8 426.7,244.4 427.5,242.9 428.3,245.1 429,245.6 429.8,245.5 430.6,244.5 431.4,246.7 432.3,247.3 433.1,247.8 433.9,247.7 434.8,249 435.6,248.4 436.5,249.5 437.3,249.9 438.2,248.9 439,249.7 439.8,250 440.7,251.3 441.5,248.5 442.4,251 443.2,250.6 444.1,250.2 444.9,251.2 445.8,250.5 446.7,254 447.5,251.4 448.4,253.4 449.2,254 450.1,254.4 450.9,254.5 451.8,253.4 452.7,254.2 453.5,254.1 454.4,254 455.2,255.1 456.1,255 456.9,256.5 457.8,257.7 458.6,259 459.5,258.2 460.4,257 461.2,254.4 462.1,255.7 462.9,255.1 463.8,257.1 464.6,258.8 465.5,259.6 466.3,258.5 467.2,257.6 468,260 468.9,260.5 469.7,258.7 470.6,261.2 471.4,261.2 472.3,260.1 473.1,261.8 473.9,261.8 474.8,261.3 475.6,262.6 476.5,262.2 477.3,263.2 478.1,260.3 478.9,263.7 479.7,264.3 480.5,264.5 481.3,261.9 482.1,262.5 482.9,265.5 483.8,267.6 484.5,266.5 485.3,266.9 486.1,262.7 486.9,265.9 487.7,266.4 488.5,266.4 489.3,268 490,269.3 490.8,271.8 491.6,271.4 492.4,268.9 493.1,271.3 493.9,270.4 494.7,270.9 495.5,272.9 496.3,274 497.1,272.1 497.9,271.8 498.7,273.4 499.5,272 500.3,275.2 501.1,275.1 501.9,276.8 502.7,276.3 503.5,276.9 504.3,277.7 505.1,278.2 505.8,276.8 506.6,279 507.4,278.9 508.2,277.5 509,278.8 509.8,279.5 510.6,279.6 511.3,280.9 512.1,279.9 512.9,280.5 513.7,279.2 514.4,282.9 515.2,283.3 516,283.6 516.8,282.7 517.6,284.2 518.4,285.6 519.2,284.2 520,284.9 520.8,285.8 521.6,286.2 522.3,285.4 523,286.7 523.6,285.7 524.2,287.4 525.5,290.4 525.5,299.5 524.2,299.5 523.6,297.6 523,300.9 522.3,296.2 521.6,295.8 520.8,295.6 520,295.4 519.2,295.3 518.4,296.3 517.6,296 516.8,295.1 516,294.4 515.2,298.4 514.4,294 513.7,292.8 512.9,294.6 512.1,290.8 511.3,290.4 510.6,290.5 509.8,289.2 509,288.9 508.2,290.4 507.4,290.1 506.6,288.2 505.8,289.2 505.1,287.1 504.3,286.9 503.5,288.6 502.7,287.9 501.9,286.6 501.1,286.1 500.3,285 499.5,283.4 498.7,283 497.9,282.8 497.1,283.6 496.3,284.3 495.5,282.2 494.7,281.7 493.9,281.3 493.1,282.2 492.4,281.4 491.6,281.6 490.8,283.7 490,280.6 489.3,278.1 488.5,278.2 487.7,276.5 486.9,275.7 486.1,276.9 485.3,277.6 484.5,278.5 483.8,277.9 482.9,277.6 482.1,275.1 481.3,273.5 480.5,275.8 479.7,274.4 478.9,273.2 478.1,273.1 477.3,272.8 476.5,271.9 475.6,271.3 474.8,272 473.9,270.8 473.1,272.2 472.3,269.9 471.4,270.4 470.6,272 469.7,272 468.9,270.2 468,268.6 467.2,268.3 466.3,271.8 465.5,269.4 464.6,267.9 463.8,270.7 462.9,266 462.1,266 461.2,265.5 460.4,267.8 459.5,268 458.6,271.3 457.8,267.8 456.9,265.1 456.1,264.2 455.2,263.3 454.4,263.3 453.5,264.9 452.7,263.9 451.8,266.3 450.9,263.1 450.1,263.6 449.2,262.4 448.4,263.4 447.5,262.9 446.7,263.5 445.8,261.1 444.9,260.9 444.1,260.1 443.2,261.2 442.4,260.4 441.5,260.6 440.7,259.9 439.8,258.9 439,258.5 438.2,258.6 437.3,259 436.5,257.7 435.6,258.8 434.8,257.2 433.9,259.5 433.1,256.9 432.3,257.3 431.4,256.1 430.6,256.2 429.8,256.3 429,255.6 428.3,255 427.5,253.2 426.7,252.9 426,252.7 425.3,252.5 424.6,253 423.9,252.8 423.2,252.9 422.5,253.3 421.9,252.1 421.2,250.2 420.6,249.8 420,248.1 419.5,248.9 418.9,247.4 418.5,247.8 418,247 417.6,247.5 417.2,247.2 416.9,246.2 416.5,246 416.2,245 415.8,244.6 415.5,243.4 415.2,242.7 414.9,242.1 414.5,240.9 414.2,239.8 413.8,239 413.5,237.2 413.1,236 412.7,235.5 412.2,233.1 411.6,232.3 411.1,231.7 410.5,231.5 409.8,230.7 409.2,229.3 408.5,228.9 407.9,226.6 407.2,226.7 406.6,226.3 406,226.3 405.4,225.3 404.8,225.6 404.2,225 403.5,223.3 402.9,223.6 402.3,221.9 401.6,221.1 400.9,221 400.3,220.2 399.6,220.1 398.9,219 398.1,217.8 397.4,217.2 396.7,216.4 395.9,215.9 395.2,215.4 394.4,215.3 393.7,214.4 392.9,215.1 392.2,215 391.5,214.3 390.7,212.8 390,212.4 389.3,211.8 388.6,211.2 387.9,210.7 387.2,210.2 386.6,209.9 386,209.2 385.3,209.2 384.8,208.3 384.2,207.9 383.7,207.6 383.3,207.3 382.8,206.5 382.4,206 382,205.2 381.5,204.2 381.1,203.4 380.6,202.3 380.2,201.4 379.7,200.7 379.1,199.4 378.6,198.7 378.1,197.9 377.5,196.8 376.9,195.9 376.3,195.1 375.7,195 375,193.4 374.3,193.1 373.5,192.3 372.7,191.9 371.9,191.4 371.1,191.2 370.3,190.8 369.5,190.2 368.7,190 367.9,189.5 367.2,189.2 366.4,188.7 365.7,188.2 365,187.7 364.2,187.2 363.5,186.7 362.8,186.5 362.1,185.8 361.3,185 360.6,184.6 359.9,184 359.2,183.4 358.5,183.3 357.8,182.7 357.1,181.8 356.5,181.3 355.8,180.7 355.1,180.3 354.5,179.7 353.9,179.2 353.3,178.8 352.7,178 352.1,177.4 351.5,176.7 350.9,176.1 350.3,175.5 349.7,174.7 349.1,174.2 348.6,173.5 348,173 347.5,172.4 346.9,171.9 346.4,171.4 346,170.8 345.5,170.1 345.1,169.5" fill="#FF0000"/>
<polyline points="7,30.4 8.5,30.4 9,30.4 9.7,30.4 10.4,30.4 11.2,30.4 12.1,30.4 13,30.4 14,30.4 15,30.4 16,30.4 17,30.4 18,30.4 19,30.4 20,30.4 21,30.4 22,30.4 23,30.4 24,30.4 25,30.4 26,30.4 27,30.4 28,30.4 29,30.4 30,30.4 31,30.4 32,30.4 33,30.4 34,30.4 35,30.4 36,30.5 37,30.5 38,30.5 39,30.5 40,30.5 41,30.5 42,30.5 43,30.5 44,30.5 45,30.5 46,30.5 47,30.5 48,30.5 49,30.5 50,30.5 51,30.5 52,30.5 53,30.5 54,30.5 55,30.5 56,30.5 57,30.5 58,30.5 59,30.5 60,30.5 61,30.5 62,30.5 63,30.5 64,30.5 65,30.6 66,30.6 67,30.6 68,30.6 69,30.6 70,30.6 71,30.7 72,30.7 73,30.7 74,30.7 75,30.8 76,30.8 77,30.8 78,30.8 79,30.8 80,30.9 81,30.9 82,30.9 83,30.9 84,30.9 85,31 86,31 87,31 88,31 89,31.1 90,31.1 91,31.1 92,31.1 93,31.1 94,31.2 95,31.2 96,31.2 97,31.3 98,31.3 99,31.3 100,31.4 101,31.4 102,31.5 103,31.5 104,31.5 105,31.6 106,31.6 107,31.7 108,31.7 109,31.7 110,31.8 111,31.8 112,31.9 113,31.9 114,31.9 115,32 116,32 117,32.1 118,32.1 119,32.2 120,32.2 121,32.3 122,32.3 123,32.4 124,32.4 125,32.4 126,32.5 127,32.5 128,32.6 129,32.6 130,32.7 131,32.7 132,32.8 133,32.8 134,32.9 135,33 136,33 136.9,33.1 137.9,33.1 138.9,33.2 139.9,33.3 140.9,33.3 141.9,33.4 142.9,33.5 143.9,33.5 144.9,33.6 145.9,33.7 146.9,33.8 147.9,33.9 148.9,34 149.9,34.1 150.9,34.2 151.9,34.3 152.9,34.4 153.9,34.5 154.9,34.6 155.9,34.7 156.9,34.8 157.9,34.9 158.9,35 159.8,35.2 160.8,35.3 161.8,35.4 162.8,35.5 163.8,35.6 164.8,35.8 165.8,35.9 166.8,36 167.8,36.2 168.8,36.3 169.8,36.5 170.7,36.6 171.7,36.8 172.7,36.9 173.7,37.1 174.7,37.2 175.7,37.4 176.7,37.6 177.7,37.7 178.6,37.9 179.6,38.1 180.6,38.2 181.6,38.4 182.6,38.6 183.6,38.8 184.5,39 185.5,39.2 186.5,39.4 187.5,39.6 188.5,39.8 189.4,40 190.4,40.2 191.4,40.4 192.4,40.7 193.3,40.9 194.3,41.1 195.3,41.3 196.3,41.6 197.2,41.8 198.2,42.1 199.2,42.3 200.1,42.6 201.1,42.8 202.1,43.1 203,43.4 204,43.6 204.9,43.9 205.9,44.2 206.9,44.4 207.8,44.7 208.8,45 209.7,45.3 210.7,45.6 211.7,45.9 212.6,46.2 213.6,46.5 214.5,46.8 215.4,47.2 216.4,47.5 217.3,47.9 218.2,48.3 219.2,48.6 220.1,49 221,49.4 221.9,49.8 222.8,50.2 223.8,50.6 224.7,51 225.6,51.4 226.5,51.8 227.4,52.2 228.3,52.6 229.2,53.1 230.1,53.5 231,54 231.9,54.5 232.7,54.9 233.6,55.4 234.5,55.9 235.4,56.4 236.2,56.9 237.1,57.3 238,57.8 238.9,58.3 239.7,58.8 240.6,59.3 241.5,59.8 242.3,60.3 243.2,60.8 244.1,61.3 244.9,61.8 245.8,62.3 246.6,62.8 247.5,63.4 248.4,63.9 249.2,64.4 250,64.9 250.9,65.5 251.7,66 252.5,66.6 253.4,67.2 254.2,67.8 255,68.4 255.7,69 256.5,69.6 257.3,70.2 258,70.9 258.8,71.5 259.6,72.2 260.3,72.8 261.1,73.5 261.8,74.2 262.6,74.8 263.3,75.5 264.1,76.1 264.9,76.8 265.6,77.4 266.4,78.1 267.1,78.7 267.9,79.4 268.7,80 269.4,80.6 270.2,81.3 271,81.9 271.7,82.6 272.5,83.2 273.3,83.9 274,84.5 274.8,85.1 275.6,85.8 276.3,86.4 277.1,87.1 277.8,87.7 278.6,88.4 279.3,89.1 280,89.8 280.8,90.5 281.5,91.1 282.2,91.8 282.9,92.5 283.6,93.2 284.3,93.9 285.1,94.7 285.8,95.4 286.5,96.1 287.2,96.8 287.9,97.5 288.6,98.2 289.3,98.9 290,99.6 290.7,100.3 291.4,101.1 292.1,101.8 292.8,102.5 293.4,103.2 294.1,104 294.8,104.7 295.5,105.4 296.2,106.2 296.9,106.9 297.5,107.6 298.2,108.3 298.9,109.1 299.6,109.8 300.3,110.5 300.9,111.3 301.6,112 302.3,112.7 303,113.5 303.7,114.2 304.4,114.9 305,115.7 305.7,116.4 306.4,117.1 307.1,117.8 307.8,118.6 308.5,119.3 309.1,120 309.8,120.8 310.5,121.5 311.2,122.2 311.8,123 312.5,123.7 313.2,124.5 313.8,125.2 314.5,126 315.2,126.7 315.8,127.5 316.5,128.2 317.1,129 317.8,129.8 318.4,130.5 319.1,131.3 319.7,132 320.4,132.8 321,133.6 321.7,134.3 322.3,135.1 323,135.9 323.6,136.6 324.2,137.4 324.9,138.1 325.5,138.9 326.2,139.7 326.8,140.4 327.5,141.2 328.1,142 328.7,142.8 329.4,143.5 330,144.3 330.6,145.1 331.3,145.8 331.9,146.6 332.5,147.4 333.2,148.2 333.8,148.9 334.5,149.7 335.1,150.5 335.7,151.2 336.4,152 337,152.8 337.6,153.5 338.3,154.3 338.9,155.1 339.6,155.9 340.2,156.6 340.8,157.4 341.5,158.2 342.1,158.9 342.8,159.7 343.4,160.5 344,161.2 344.7,162 345.3,162.8 346,163.5 346.6,164.3 347.3,165.1 347.9,165.8 348.5,166.6 349.2,167.4 349.8,168.1 350.5,168.9 351.1,169.7 351.8,170.4 352.4,171.2 353.1,171.9 353.7,172.7 354.4,173.4 355.1,174.2 355.7,174.9 356.4,175.7 357.1,176.4 357.8,177.1 358.5,177.8 359.2,178.6 359.8,179.3 360.5,180 361.2,180.7 361.9,181.5 362.6,182.2 363.3,182.9 364,183.6 364.7,184.4 365.4,185.1 366,185.8 366.7,186.5 367.4,187.3 368.1,188 368.8,188.7 369.5,189.5 370.1,190.2 370.8,190.9 371.5,191.6 372.2,192.4 372.9,193.1 373.6,193.8 374.2,194.6 374.9,195.3 375.6,196 376.3,196.8 377,197.5 377.6,198.2 378.3,199 379,199.7 379.7,200.4 380.4,201.2 381.1,201.9 381.8,202.6 382.4,203.3 383.1,204 383.9,204.7 384.6,205.4 385.3,206.1 386,206.8 386.8,207.5 387.5,208.1 388.3,208.8 389,209.4 389.8,210.1 390.5,210.7 391.3,211.4 392.1,212.1 392.8,212.7 393.6,213.4 394.3,214 395,214.7 395.8,215.4 396.5,216.1 397.2,216.8 398,217.4 398.7,218.1 399.4,218.9 400.1,219.6 400.8,220.3 401.5,221 402.2,221.7 402.9,222.4 403.6,223.1 404.3,223.8 405,224.5 405.7,225.2 406.5,225.9 407.2,226.5 408,227.2 408.7,227.8 409.5,228.5 410.3,229.1 411.1,229.7 411.9,230.3 412.7,230.8 413.5,231.4 414.4,232 415.2,232.5 416,233.1 416.8,233.7 417.6,234.3 418.5,234.8 419.3,235.4 420.1,236 420.9,236.6 421.7,237.2 422.5,237.8 423.3,238.4 424.1,238.9 424.9,239.5 425.7,240.1 426.6,240.7 427.4,241.2 428.1,241.7 428.9,242.1 429.6,242.6 430.2,242.9 430.8,243.2 431.3,243.5 433.4,244.5" fill="none" stroke="#000" stroke-width="2.8" stroke-dasharray="7.8 7.95"/>
</g>
<path d="M433.5 143.5V384" stroke="#000" stroke-width="1.5" stroke-dasharray="8.4 7.3" stroke-dashoffset="3.5" fill="none"/>
<g filter="url(#gs)"><rect width="1" height="1" fill="none"/>
<g font-size="12.7" stroke="#000" stroke-width="0.32" lengthAdjust="spacingAndGlyphs">
<text x="250.5" y="30.2" textLength="56" lengthAdjust="spacingAndGlyphs">observed</text><text x="315" y="30.2" textLength="30.5" lengthAdjust="spacingAndGlyphs">B211</text><text x="355" y="30.2" textLength="55" lengthAdjust="spacingAndGlyphs">Northern</text><text x="418.2" y="30.2" textLength="38.3" lengthAdjust="spacingAndGlyphs">profile</text>
<text x="249" y="45.5" textLength="56" lengthAdjust="spacingAndGlyphs">observed</text><text x="313.4" y="45.5" textLength="30.5" lengthAdjust="spacingAndGlyphs">B211</text><text x="353.3" y="45.5" textLength="56.7" lengthAdjust="spacingAndGlyphs">Southern</text><text x="418.2" y="45.5" textLength="38.3" lengthAdjust="spacingAndGlyphs">profile</text>
<text x="410" y="60.5" textLength="24.8" lengthAdjust="spacingAndGlyphs">Best</text><text x="444" y="60.5" textLength="12.5" lengthAdjust="spacingAndGlyphs">fit</text>
</g>
<g font-size="15" style="fill:#555"><text x="437.6" y="166.5" textLength="82.6" lengthAdjust="spacingAndGlyphs" style="fill:#4a4a4a;stroke:#fff;stroke-width:0.45;paint-order:fill stroke">Background</text></g>
<g font-size="20.2" stroke="#000" stroke-width="0.35">
<text x="109.2" y="414.1" textLength="41.2" lengthAdjust="spacingAndGlyphs">0.01</text><text x="297.6" y="414.1" textLength="43.6" lengthAdjust="spacingAndGlyphs">0.10</text><text x="488.2" y="414.1" textLength="41.8" lengthAdjust="spacingAndGlyphs">1.00</text>
<g font-size="20.9"><text x="206.6" y="439.2" textLength="65.2" lengthAdjust="spacingAndGlyphs">Radius</text></g><text x="293.2" y="439.3" textLength="21" lengthAdjust="spacingAndGlyphs">pc</text>
</g>
</g>
<path d="M467.1 26.5H518.1" stroke="#0A96FF" stroke-width="2.8"/>
<path d="M467.1 41.5H518.1" stroke="#FF0000" stroke-width="2.8"/>
<path d="M467.1 56.3H518.1" stroke="#000" stroke-width="2.8" stroke-dasharray="8 7.8"/>
<path d="M290.3 422.6H285.6V444.2H290.3M317.6 422.6H322.3V444.2H317.6" fill="none" stroke="#000" stroke-width="1.9"/>
</svg>
</body></html>
